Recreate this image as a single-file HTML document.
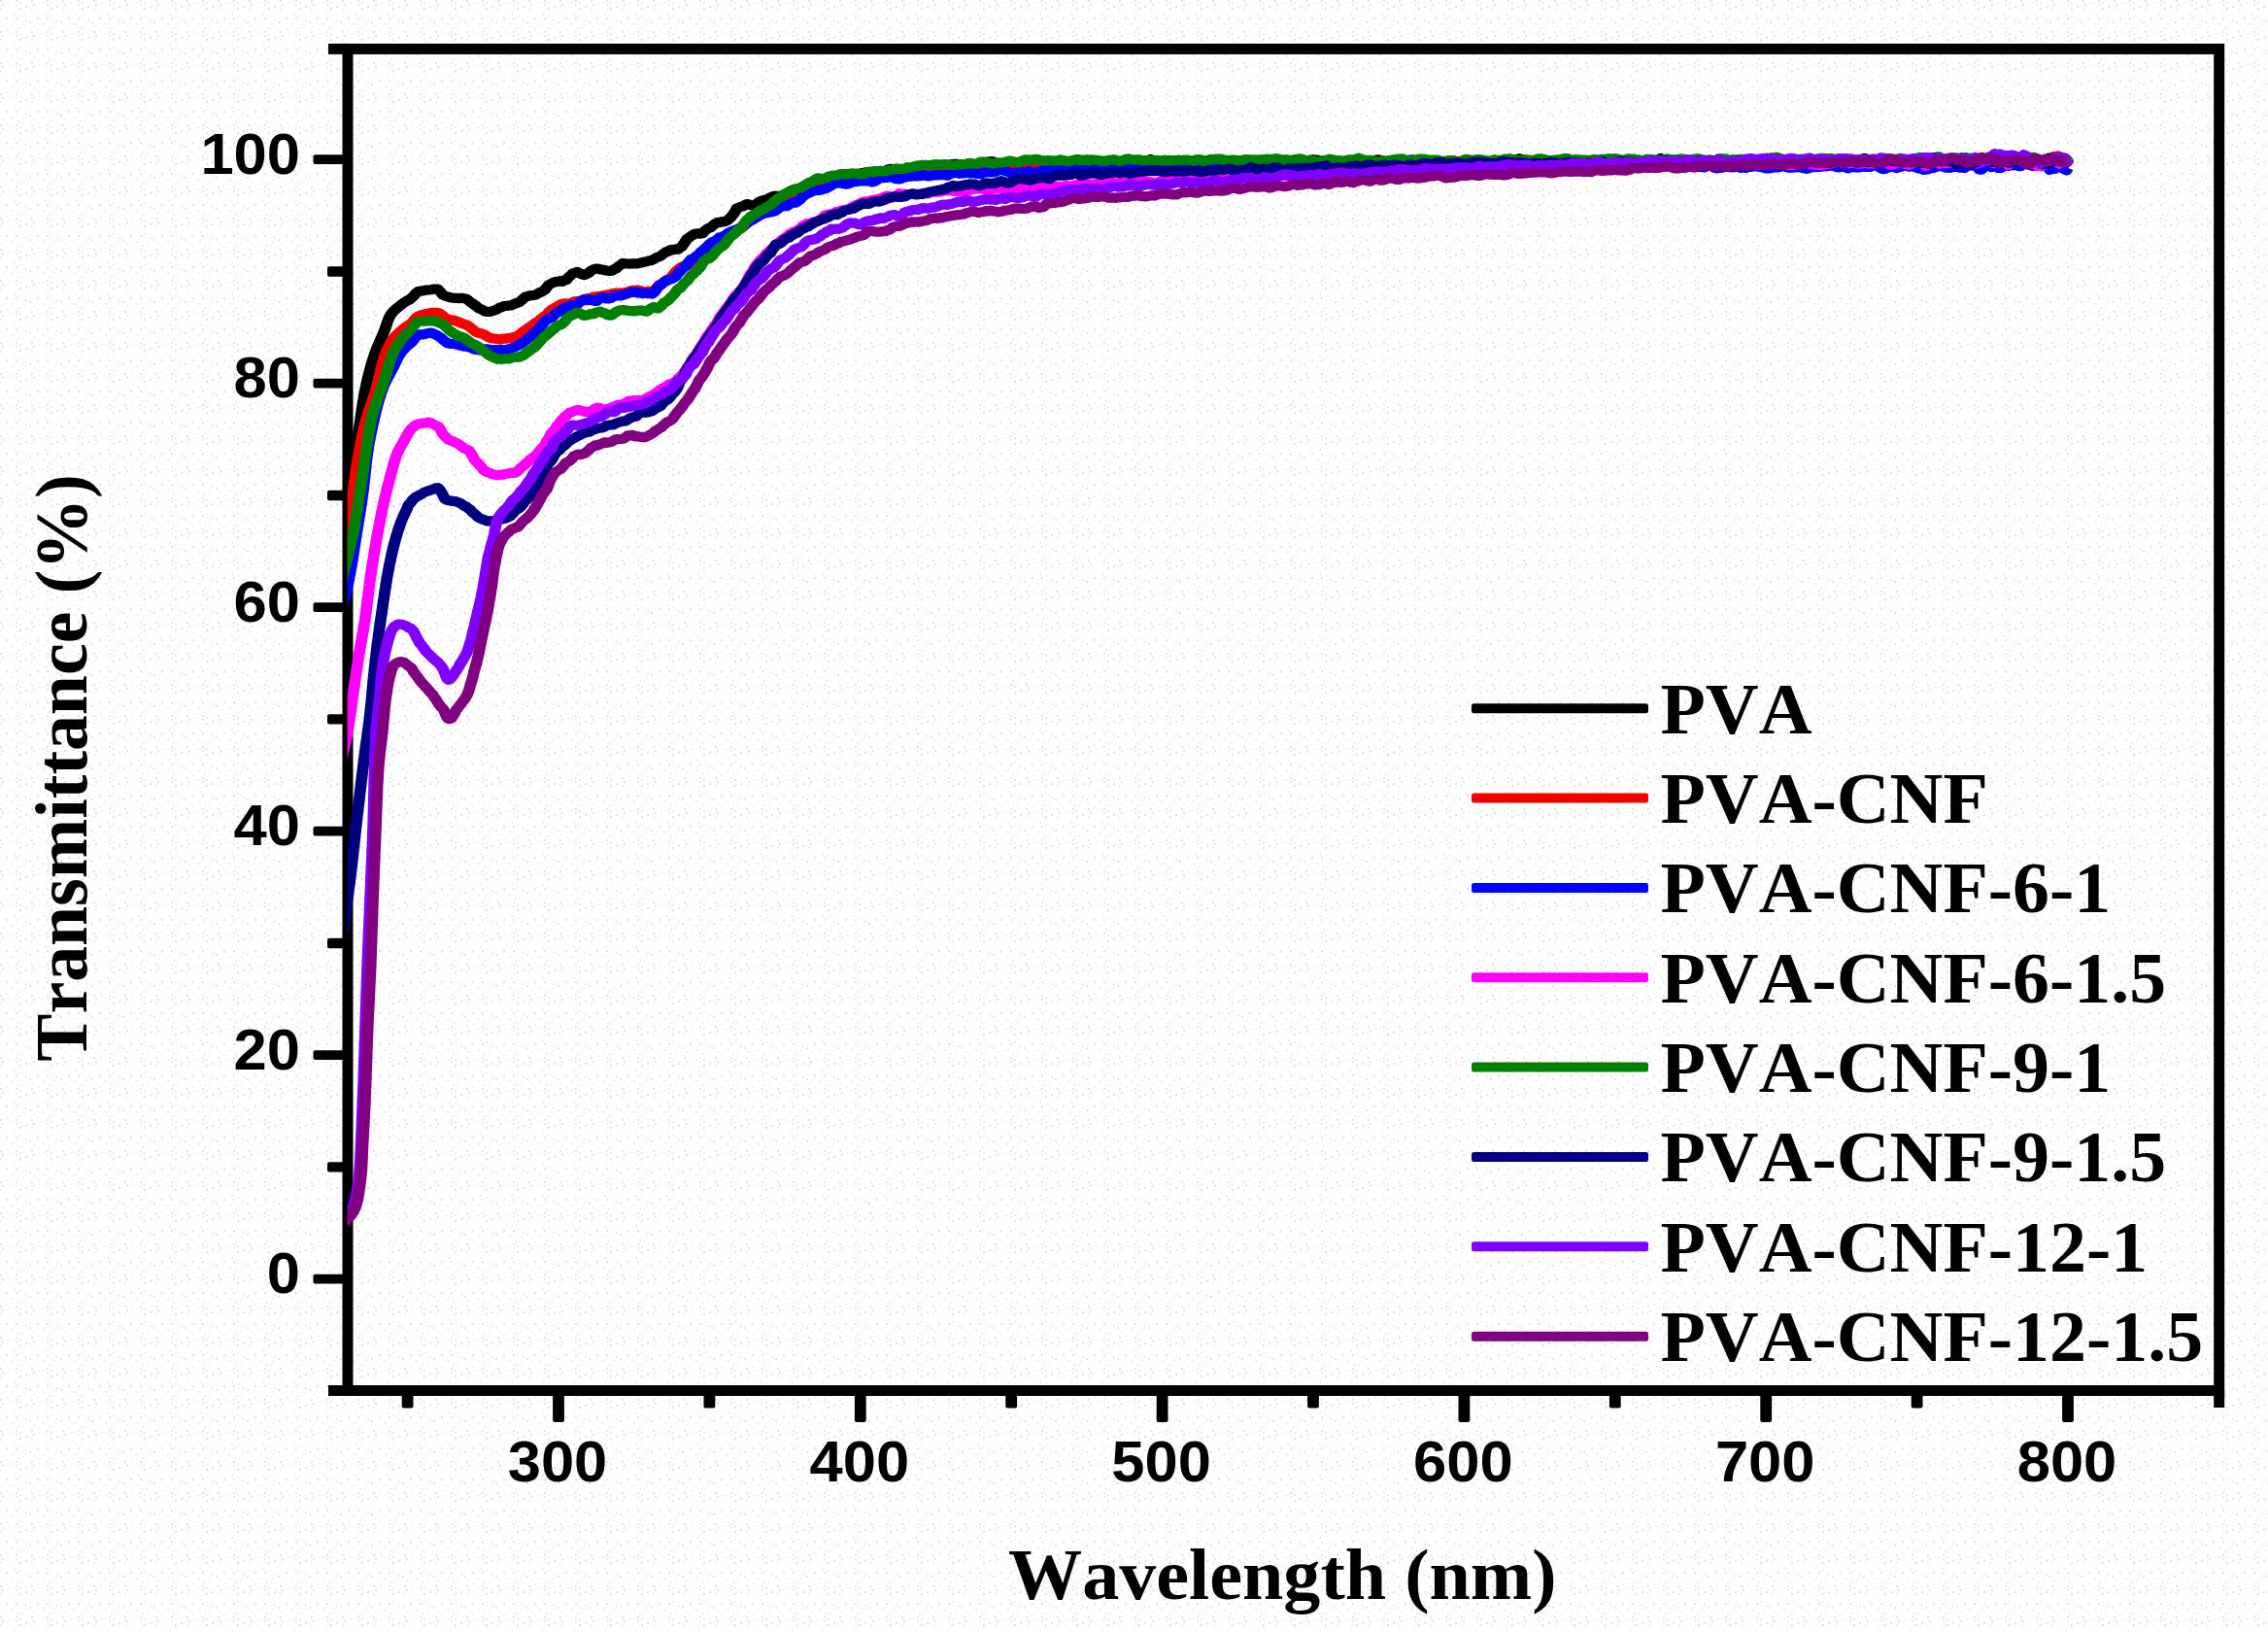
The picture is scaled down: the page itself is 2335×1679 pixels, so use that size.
<!DOCTYPE html>
<html lang="en"><head><meta charset="utf-8"><title>Transmittance vs Wavelength</title>
<style>
html,body{margin:0;padding:0;background:#fff;}
body{width:2335px;height:1679px;overflow:hidden;}
svg{display:block;}
text{font-kerning:none;}
.tick{font-family:"Liberation Sans",Arial,sans-serif;font-weight:700;font-size:60px;fill:#000;}
.ttl{font-family:"Liberation Serif","Times New Roman",serif;font-weight:700;font-size:73px;fill:#000;}
.leg{font-family:"Liberation Serif","Times New Roman",serif;font-weight:700;font-size:73px;fill:#000;}
</style></head><body>
<svg width="2335" height="1679" viewBox="0 0 2335 1679">
<defs>
<pattern id="dots" width="32" height="32" patternUnits="userSpaceOnUse">
<rect width="32" height="32" fill="#ffffff"/>
<rect x="0" y="0" width="2" height="2" fill="#f2d8ef"/>
<rect x="14" y="14" width="2" height="2" fill="#dcf2f3"/>
<rect x="8" y="2" width="2" height="2" fill="#f5f5ec"/>
<rect x="6" y="18" width="2" height="2" fill="#f2d8ef"/>
<rect x="16" y="4" width="2" height="2" fill="#dcf2f3"/>
<rect x="22" y="28" width="2" height="2" fill="#f5f5ec"/>
<rect x="20" y="8" width="2" height="2" fill="#f2d8ef"/>
<rect x="20" y="2" width="2" height="2" fill="#dcf2f3"/>
<rect x="20" y="16" width="2" height="2" fill="#f5f5ec"/>
<rect x="30" y="22" width="2" height="2" fill="#f2d8ef"/>
<rect x="0" y="8" width="2" height="2" fill="#dcf2f3"/>
<rect x="2" y="26" width="2" height="2" fill="#f5f5ec"/>
<rect x="16" y="18" width="2" height="2" fill="#f2d8ef"/>
<rect x="18" y="28" width="2" height="2" fill="#dcf2f3"/>
<rect x="12" y="2" width="2" height="2" fill="#f5f5ec"/>
<rect x="16" y="0" width="2" height="2" fill="#f2d8ef"/>
<rect x="26" y="20" width="2" height="2" fill="#dcf2f3"/>
<rect x="6" y="30" width="2" height="2" fill="#f5f5ec"/>
<rect x="2" y="4" width="2" height="2" fill="#f2d8ef"/>
<rect x="12" y="24" width="2" height="2" fill="#dcf2f3"/>
<rect x="24" y="24" width="2" height="2" fill="#f5f5ec"/>
<rect x="26" y="6" width="2" height="2" fill="#f2d8ef"/>
</pattern>
</defs>
<rect width="2335" height="1679" fill="url(#dots)"/>

<g stroke="#000" stroke-width="11" fill="none" stroke-linecap="butt">
<rect x="358.0" y="50.4" width="1926.7" height="1381.1"/>
<line x1="338" y1="50.4" x2="358.0" y2="50.4"/>
<line x1="338" y1="1431.5" x2="358.0" y2="1431.5"/>
<line x1="2284.7" y1="1431.5" x2="2284.7" y2="1449"/>
</g>
<g fill="#000">
<rect x="322.5" y="1311.8" width="32" height="9.8" rx="2"/>
<rect x="322.5" y="1081.3" width="32" height="9.8" rx="2"/>
<rect x="322.5" y="850.8" width="32" height="9.8" rx="2"/>
<rect x="322.5" y="620.3" width="32" height="9.8" rx="2"/>
<rect x="322.5" y="389.8" width="32" height="9.8" rx="2"/>
<rect x="322.5" y="159.3" width="32" height="9.8" rx="2"/>
<rect x="337" y="1196.2" width="18" height="10.4" rx="2"/>
<rect x="337" y="965.8" width="18" height="10.4" rx="2"/>
<rect x="337" y="735.2" width="18" height="10.4" rx="2"/>
<rect x="337" y="504.8" width="18" height="10.4" rx="2"/>
<rect x="337" y="274.3" width="18" height="10.4" rx="2"/>
<rect x="569.1" y="1435" width="11.8" height="29" rx="2"/>
<rect x="879.9" y="1435" width="11.8" height="29" rx="2"/>
<rect x="1190.7" y="1435" width="11.8" height="29" rx="2"/>
<rect x="1501.5" y="1435" width="11.8" height="29" rx="2"/>
<rect x="1812.3" y="1435" width="11.8" height="29" rx="2"/>
<rect x="2123.1" y="1435" width="11.8" height="29" rx="2"/>
<rect x="413.7" y="1435" width="11.8" height="14.5" rx="2"/>
<rect x="724.5" y="1435" width="11.8" height="14.5" rx="2"/>
<rect x="1035.3" y="1435" width="11.8" height="14.5" rx="2"/>
<rect x="1346.1" y="1435" width="11.8" height="14.5" rx="2"/>
<rect x="1656.9" y="1435" width="11.8" height="14.5" rx="2"/>
<rect x="1967.7" y="1435" width="11.8" height="14.5" rx="2"/>
</g>
<text class="tick" transform="translate(309,1331.0) scale(1.025,1)" text-anchor="end">0</text>
<text class="tick" transform="translate(309,1100.5) scale(1.025,1)" text-anchor="end">20</text>
<text class="tick" transform="translate(309,870.0) scale(1.025,1)" text-anchor="end">40</text>
<text class="tick" transform="translate(309,639.5) scale(1.025,1)" text-anchor="end">60</text>
<text class="tick" transform="translate(309,409.0) scale(1.025,1)" text-anchor="end">80</text>
<text class="tick" transform="translate(309,178.5) scale(1.025,1)" text-anchor="end">100</text>
<text class="tick" transform="translate(574.0,1524.8) scale(1.025,1)" text-anchor="middle">300</text>
<text class="tick" transform="translate(884.8,1524.8) scale(1.025,1)" text-anchor="middle">400</text>
<text class="tick" transform="translate(1195.6,1524.8) scale(1.025,1)" text-anchor="middle">500</text>
<text class="tick" transform="translate(1506.4,1524.8) scale(1.025,1)" text-anchor="middle">600</text>
<text class="tick" transform="translate(1817.2,1524.8) scale(1.025,1)" text-anchor="middle">700</text>
<text class="tick" transform="translate(2128.0,1524.8) scale(1.025,1)" text-anchor="middle">800</text>
<clipPath id="cl"><rect x="357.6" y="0" width="2000" height="1679"/></clipPath>
<g clip-path="url(#cl)"><g transform="scale(1.15,1)" fill="none" stroke-width="10.2" stroke-linejoin="round" stroke-linecap="butt">
<path stroke="#000000" d="M300.4,600.0 300.8,597.5 301.1,595.1 301.4,592.6 301.7,590.1 302.0,587.6 302.4,585.2 302.7,582.7 303.0,580.2 303.3,577.7 303.7,575.3 304.0,572.8 304.3,570.3 304.6,567.9 304.9,565.4 305.3,562.9 305.6,560.4 305.9,558.0 306.2,555.5 306.6,553.0 306.9,550.6 307.2,548.1 307.5,545.6 307.9,543.1 308.2,540.7 308.5,538.2 308.8,535.7 309.1,533.2 309.5,530.8 309.8,528.3 310.1,525.8 310.4,523.4 310.8,520.9 311.1,518.4 311.4,515.9 311.7,513.5 312.0,511.0 312.4,508.5 312.7,506.0 313.0,503.6 313.3,501.1 313.6,498.6 314.0,496.2 314.3,493.7 314.6,491.2 314.9,488.7 315.3,486.3 315.6,483.8 315.9,481.3 316.2,478.9 316.6,476.4 316.9,473.9 317.3,471.4 317.6,469.0 318.0,466.5 318.3,464.0 318.7,461.6 319.0,459.1 319.4,456.6 319.7,454.2 320.1,451.7 320.4,449.2 320.7,446.8 321.1,444.3 321.4,441.8 321.7,439.4 322.1,436.9 322.4,434.4 322.7,431.9 323.0,429.5 323.3,427.0 323.6,424.5 323.9,422.0 324.2,419.6 324.6,417.1 324.9,414.6 325.3,412.2 325.7,409.7 326.0,407.2 326.4,404.8 326.8,402.3 327.2,399.9 327.7,397.4 328.1,395.0 328.6,392.5 329.1,390.1 329.6,387.7 330.2,385.3 330.7,382.8 331.3,380.4 331.9,378.0 332.5,375.6 333.1,373.2 333.7,370.8 334.4,368.4 335.0,366.0 335.7,363.7 336.5,361.3 337.3,359.0 338.1,356.7 339.0,354.4 339.8,352.1 340.7,349.8 341.6,347.5 342.5,345.2 343.3,342.9 344.1,340.6 344.9,338.2 345.6,335.8 346.3,333.3 347.0,330.9 347.8,328.6 348.7,326.3 349.7,324.2 350.8,322.3 352.2,320.5 353.8,318.8 355.5,317.1 357.3,315.5 359.0,313.9 360.8,312.4 362.5,311.0 364.4,309.6 366.2,308.7 367.9,307.3 369.6,305.5 371.3,303.3 373.0,301.2 374.8,299.8 376.7,299.7 378.9,299.3 381.1,298.7 383.3,298.5 385.5,298.2 387.8,297.7 390.0,297.5 391.9,297.6 393.5,299.5 395.0,301.5 396.5,303.6 398.2,304.5 400.2,305.2 402.3,306.0 404.5,306.5 406.7,306.9 408.9,306.8 411.1,307.1 413.4,306.8 415.5,307.3 417.6,307.7 419.5,309.3 421.2,311.2 423.0,312.3 424.8,314.0 426.6,315.3 428.5,317.3 430.4,318.2 432.4,319.3 434.4,320.6 436.4,321.0 438.5,320.9 440.5,320.2 442.6,319.5 444.7,318.6 446.8,317.1 448.9,316.3 451.0,315.2 453.1,315.0 455.3,314.5 457.4,314.4 459.5,313.3 461.5,312.5 463.5,311.6 465.3,310.8 467.1,308.9 468.8,307.1 470.6,305.4 472.5,305.0 474.6,304.2 476.8,304.2 479.0,303.6 481.2,302.5 483.2,301.1 485.0,300.4 486.6,299.1 488.1,298.1 489.5,295.7 491.0,293.6 492.7,292.4 494.7,291.3 496.8,290.1 499.1,290.2 501.3,289.2 503.4,289.9 505.4,288.4 507.3,288.0 509.1,285.2 510.9,283.6 512.8,281.5 514.7,280.7 516.7,279.8 518.9,281.2 521.1,282.4 523.2,283.1 525.3,282.0 527.3,280.7 529.3,278.5 531.3,277.3 533.4,276.7 535.4,276.7 537.5,277.4 539.7,277.6 541.8,278.3 543.9,278.7 545.9,278.9 547.8,278.7 549.7,277.2 551.5,276.4 553.4,274.4 555.3,273.0 557.3,271.2 559.4,271.2 561.6,271.5 563.8,271.6 566.0,271.4 568.2,271.3 570.4,271.4 572.5,270.8 574.6,270.3 576.7,269.7 578.7,269.3 580.8,268.5 582.9,268.2 585.0,267.1 587.1,265.6 589.2,264.5 591.2,263.7 593.1,261.9 594.8,260.7 596.5,259.0 598.3,258.9 600.2,257.0 602.5,257.3 604.8,256.4 607.0,256.7 608.9,254.9 610.4,253.9 611.6,251.9 612.8,250.0 614.0,247.8 615.3,245.7 616.8,244.7 618.5,243.1 620.5,241.7 622.6,240.5 624.8,240.3 627.0,240.6 629.0,240.1 630.9,237.7 632.8,236.0 634.6,234.8 636.3,234.2 638.1,232.3 640.0,230.5 642.0,229.2 644.1,229.0 646.2,228.1 648.3,228.3 650.4,227.4 652.2,226.0 653.8,224.1 655.3,222.4 656.8,220.3 658.2,217.7 659.7,214.3 661.4,213.8 663.2,212.9 665.3,212.3 667.4,210.5 669.6,210.1 671.8,211.1 674.0,211.3 676.1,211.0 678.1,209.1 680.1,207.4 682.0,206.4 683.9,206.0 685.9,205.5 687.9,204.7 689.9,203.2 692.0,202.3 694.1,201.5 696.2,202.2 698.3,201.8 700.4,201.5 702.5,199.7 704.6,199.1 706.6,197.4 708.7,196.1 710.7,195.1 712.7,194.8 714.8,194.6 716.8,193.5 718.8,192.8 720.9,191.4 722.9,189.9 725.0,188.0 727.0,187.2 729.1,187.8 731.1,187.5 733.2,186.8 735.3,185.1 737.4,185.7 739.5,185.2 741.6,184.6 743.7,182.7 745.8,182.8 747.9,182.8 750.1,181.7 752.2,180.4 754.4,180.1 756.5,180.2 758.7,179.6 760.8,179.6 763.0,179.8 765.1,180.2 767.3,179.3 769.5,178.8 771.6,178.3 773.8,177.6 776.0,177.4 778.1,176.8 780.3,177.4 782.5,176.3 784.6,176.7 786.8,176.1 789.0,177.5 791.1,176.7 793.3,175.8 795.4,174.2 797.6,173.9 799.8,174.0 801.9,174.2 804.1,174.9 806.2,175.7 808.4,174.8 810.6,175.4 812.7,175.3 814.9,175.3 817.0,172.6 819.2,171.4 821.4,171.3 823.5,171.1 825.7,171.0 827.9,170.7 830.0,171.2 832.2,171.4 834.4,171.8 836.5,171.8 838.7,171.5 840.9,170.5 843.0,170.2 845.2,170.0 847.4,170.5 849.6,170.5 851.7,169.2 853.9,169.2 856.1,168.5 858.3,169.6 860.4,170.1 862.6,170.7 864.8,170.0 866.9,168.3 869.1,168.8 871.3,169.3 873.5,170.2 875.6,169.9 877.8,169.8 880.0,169.3 882.2,168.3 884.3,166.7 886.5,166.0 888.7,166.3 890.8,167.7 893.0,168.5 895.2,168.4 897.4,168.5 899.5,168.6 901.7,168.1 903.9,167.8 906.1,166.5 908.2,167.3 910.4,167.4 912.6,168.3 914.7,168.5 916.9,169.0 919.1,168.6 921.3,168.2 923.4,166.9 925.6,167.0 927.8,166.6 930.0,166.5 932.1,166.9 934.3,166.4 936.5,167.5 938.6,166.5 940.8,167.3 943.0,167.6 945.2,167.4 947.3,166.1 949.5,165.3 951.7,166.1 953.9,166.7 956.0,166.4 958.2,166.2 960.4,165.1 962.6,165.0 964.7,164.1 966.9,165.6 969.1,165.5 971.2,165.7 973.4,165.3 975.6,164.9 977.8,165.5 979.9,165.3 982.1,165.8 984.3,165.5 986.5,166.3 988.6,166.4 990.8,167.0 993.0,166.8 995.2,166.4 997.3,166.4 999.5,166.4 1001.7,166.9 1003.9,166.4 1006.0,166.0 1008.2,166.2 1010.4,167.5 1012.6,167.3 1014.7,167.2 1016.9,165.9 1019.1,166.7 1021.2,166.7 1023.4,167.4 1025.6,165.6 1027.8,165.1 1029.9,164.0 1032.1,165.4 1034.3,165.3 1036.5,165.5 1038.6,165.8 1040.8,167.1 1043.0,166.1 1045.2,165.6 1047.3,164.8 1049.5,166.2 1051.7,166.1 1053.9,165.3 1056.0,164.8 1058.2,165.4 1060.4,166.6 1062.6,167.1 1064.7,166.3 1066.9,165.8 1069.1,165.6 1071.2,166.3 1073.4,166.3 1075.6,166.1 1077.8,165.9 1079.9,165.3 1082.1,166.0 1084.3,166.5 1086.5,166.5 1088.6,166.3 1090.8,165.2 1093.0,166.3 1095.2,166.6 1097.3,166.9 1099.5,166.9 1101.7,166.2 1103.9,166.0 1106.0,165.2 1108.2,165.4 1110.4,165.5 1112.6,165.9 1114.7,165.6 1116.9,166.2 1119.1,166.6 1121.3,166.7 1123.4,165.6 1125.6,165.4 1127.8,166.2 1129.9,166.8 1132.1,165.8 1134.3,165.4 1136.5,166.2 1138.6,165.9 1140.8,166.0 1143.0,165.1 1145.2,165.6 1147.3,165.6 1149.5,165.1 1151.7,165.7 1153.9,166.1 1156.0,166.8 1158.2,166.2 1160.4,164.7 1162.6,164.0 1164.7,163.5 1166.9,165.2 1169.1,165.7 1171.3,166.1 1173.4,164.6 1175.6,164.2 1177.8,164.6 1179.9,164.6 1182.1,165.9 1184.3,165.7 1186.5,165.9 1188.6,165.3 1190.8,166.3 1193.0,167.4 1195.2,167.0 1197.3,166.4 1199.5,165.8 1201.7,166.3 1203.9,166.3 1206.0,165.8 1208.2,164.9 1210.4,164.8 1212.6,164.7 1214.7,166.0 1216.9,165.9 1219.1,166.0 1221.3,165.2 1223.4,164.9 1225.6,165.3 1227.8,165.9 1229.9,165.5 1232.1,164.6 1234.3,164.3 1236.5,164.9 1238.6,165.9 1240.8,166.0 1243.0,166.0 1245.2,166.3 1247.3,165.6 1249.5,165.7 1251.7,164.9 1253.9,164.8 1256.0,165.1 1258.2,165.8 1260.4,165.4 1262.6,164.5 1264.7,164.4 1266.9,165.8 1269.1,166.1 1271.3,165.8 1273.4,164.6 1275.6,166.2 1277.8,166.5 1279.9,167.6 1282.1,166.7 1284.3,166.9 1286.5,166.8 1288.6,166.3 1290.8,166.2 1293.0,165.9 1295.2,166.7 1297.3,166.0 1299.5,165.7 1301.7,165.3 1303.9,166.3 1306.0,166.7 1308.2,166.0 1310.4,165.3 1312.6,165.0 1314.7,166.3 1316.9,166.8 1319.1,167.6 1321.3,166.8 1323.4,166.1 1325.6,166.1 1327.8,166.7 1329.9,167.3 1332.1,166.7 1334.3,166.4 1336.5,165.9 1338.6,166.3 1340.8,165.4 1343.0,165.1 1345.2,165.0 1347.3,165.5 1349.5,167.0 1351.7,166.5 1353.9,166.4 1356.0,164.9 1358.2,164.1 1360.4,163.2 1362.6,164.0 1364.7,164.3 1366.9,165.7 1369.1,166.2 1371.3,166.7 1373.4,166.9 1375.6,166.3 1377.8,167.0 1379.9,166.1 1382.1,166.4 1384.3,165.4 1386.5,165.8 1388.6,165.1 1390.8,165.5 1393.0,165.5 1395.2,165.8 1397.3,165.9 1399.5,165.9 1401.7,166.2 1403.9,165.6 1406.0,165.5 1408.2,165.4 1410.4,165.7 1412.6,165.6 1414.7,164.6 1416.9,165.7 1419.1,165.4 1421.3,166.0 1423.4,165.9 1425.6,165.9 1427.8,166.3 1429.9,165.1 1432.1,164.9 1434.3,163.9 1436.5,164.3 1438.6,165.1 1440.8,165.9 1443.0,166.5 1445.2,165.4 1447.3,164.9 1449.5,164.2 1451.7,165.0 1453.9,165.6 1456.0,165.8 1458.2,165.9 1460.4,165.6 1462.6,165.6 1464.7,165.9 1466.9,165.7 1469.1,165.8 1471.3,166.0 1473.4,166.3 1475.6,166.5 1477.8,165.4 1479.9,166.4 1482.1,164.9 1484.3,164.6 1486.5,163.1 1488.6,165.0 1490.8,165.8 1493.0,166.2 1495.2,164.7 1497.3,164.7 1499.5,164.9 1501.7,165.2 1503.9,164.3 1506.0,163.7 1508.2,164.1 1510.4,165.0 1512.6,165.6 1514.7,165.4 1516.9,164.4 1519.1,164.3 1521.3,163.9 1523.4,164.8 1525.6,165.0 1527.8,165.2 1529.9,164.6 1532.1,164.9 1534.3,165.4 1536.5,165.6 1538.6,163.6 1540.8,163.4 1543.0,164.0 1545.2,166.1 1547.3,165.7 1549.5,165.1 1551.7,164.3 1553.9,165.1 1556.0,164.8 1558.2,165.0 1560.4,164.1 1562.6,164.8 1564.7,164.1 1566.9,164.7 1569.1,164.3 1571.3,165.0 1573.4,165.1 1575.6,165.9 1577.8,165.1 1579.9,165.4 1582.1,165.1 1584.3,165.8 1586.5,166.0 1588.6,165.8 1590.8,166.6 1593.0,165.6 1595.2,165.0 1597.3,165.0 1599.5,166.4 1601.7,167.1 1603.9,166.9 1606.0,165.6 1608.2,164.7 1610.4,164.1 1612.6,165.1 1614.7,164.8 1616.9,164.7 1619.1,163.0 1621.3,164.0 1623.4,164.6 1625.6,165.0 1627.8,164.7 1629.9,164.9 1632.1,165.5 1634.3,165.1 1636.5,163.8 1638.6,162.8 1640.8,163.8 1643.0,164.1 1645.2,165.6 1647.3,165.6 1649.5,165.7 1651.7,164.9 1653.9,164.8 1656.0,165.3 1658.2,165.7 1660.4,164.4 1662.6,164.8 1664.7,164.1 1666.9,163.8 1669.1,162.9 1671.3,163.6 1673.4,166.2 1675.6,166.3 1677.8,165.3 1679.9,165.3 1682.1,165.6 1684.3,166.3 1686.5,164.2 1688.6,163.4 1690.8,164.6 1693.0,165.2 1695.2,165.5 1697.3,164.1 1699.5,165.4 1701.7,165.4 1703.9,166.2 1706.0,165.2 1708.2,165.9 1710.4,164.7 1712.6,165.0 1714.7,166.1 1716.9,166.8 1719.1,165.5 1721.3,163.1 1723.4,163.3 1725.6,163.8 1727.8,164.8 1729.9,164.7 1732.1,163.6 1734.3,164.4 1736.5,164.6 1738.6,165.9 1740.8,165.4 1743.0,166.0 1745.2,166.2 1747.3,165.1 1749.5,165.4 1751.7,164.9 1753.9,165.0 1756.0,162.3 1758.2,162.7 1760.4,162.3 1762.6,163.4 1764.7,163.8 1766.9,165.0 1769.1,166.6 1771.3,166.5 1773.4,166.0 1775.6,164.5 1777.8,163.6 1779.9,164.8 1782.1,165.2 1784.3,165.3 1786.5,165.5 1788.6,165.6 1790.8,165.6 1793.0,162.8 1795.2,163.2 1797.3,164.0 1799.5,165.9 1801.7,164.8 1803.9,163.5 1806.0,163.1 1808.2,164.0 1810.4,164.8 1812.6,164.9 1814.7,164.0 1816.9,164.6 1819.1,165.1 1821.3,164.8 1823.4,165.3 1825.6,166.1 1827.8,168.2 1829.9,167.0 1832.1,165.7 1834.3,162.9 1836.5,164.2 1838.6,161.4 1840.8,162.5 1843.0,160.9 1845.2,165.2 1847.3,165.8 1849.5,164.8 1851.3,161.5"/>
<path stroke="#f50000" d="M300.9,620.0 301.2,617.5 301.5,615.0 301.8,612.6 302.1,610.1 302.4,607.6 302.7,605.1 303.0,602.7 303.3,600.2 303.6,597.7 304.0,595.3 304.3,592.8 304.6,590.3 305.0,587.8 305.3,585.4 305.7,582.9 306.0,580.4 306.4,578.0 306.8,575.5 307.1,573.1 307.5,570.6 307.9,568.1 308.3,565.7 308.8,563.2 309.2,560.8 309.6,558.3 310.0,555.8 310.3,553.4 310.7,550.9 311.1,548.5 311.4,546.0 311.7,543.5 312.0,541.0 312.3,538.6 312.6,536.1 312.9,533.6 313.2,531.1 313.5,528.7 313.7,526.2 314.0,523.7 314.3,521.2 314.5,518.7 314.8,516.3 315.1,513.8 315.4,511.3 315.7,508.8 316.0,506.3 316.3,503.9 316.6,501.4 316.9,498.9 317.2,496.4 317.5,494.0 317.8,491.5 318.1,489.0 318.4,486.5 318.7,484.1 319.1,481.6 319.4,479.1 319.7,476.6 320.1,474.2 320.4,471.7 320.8,469.2 321.2,466.8 321.6,464.3 322.0,461.9 322.4,459.4 322.8,457.0 323.2,454.5 323.7,452.1 324.2,449.6 324.6,447.2 325.1,444.7 325.6,442.3 326.1,439.9 326.7,437.4 327.2,435.0 327.7,432.6 328.3,430.2 328.9,427.8 329.6,425.4 330.2,423.1 330.9,420.7 331.7,418.3 332.4,416.0 333.1,413.6 333.8,411.2 334.5,408.9 335.2,406.5 335.9,404.1 336.5,401.7 337.1,399.3 337.7,396.9 338.2,394.5 338.7,392.0 339.2,389.6 339.7,387.1 340.2,384.7 340.7,382.2 341.1,379.8 341.7,377.4 342.2,375.0 342.8,372.6 343.5,370.2 344.1,367.9 344.9,365.5 345.6,363.1 346.5,360.7 347.4,358.4 348.3,356.1 349.3,353.9 350.3,351.7 351.4,349.7 352.7,347.7 354.1,345.9 355.7,344.1 357.3,342.4 359.0,340.7 360.6,339.0 362.3,337.5 364.1,336.0 365.8,334.8 367.5,333.4 369.1,331.9 370.7,329.5 372.2,327.6 373.8,325.9 375.6,325.0 377.5,324.2 379.6,323.6 381.8,322.8 384.0,322.5 386.2,321.8 388.4,321.8 390.6,321.8 392.5,322.1 394.3,323.0 396.0,324.7 397.7,326.4 399.6,328.0 401.6,328.7 403.7,329.3 405.9,329.6 408.1,330.3 410.2,331.3 412.2,332.4 414.2,333.1 416.1,333.9 418.1,334.7 420.0,336.1 421.9,338.0 423.8,339.8 425.6,341.4 427.5,342.5 429.4,342.9 431.3,343.6 433.3,344.1 435.3,345.8 437.4,347.2 439.5,348.0 441.6,348.5 443.7,348.8 445.8,349.2 448.0,349.2 450.1,348.7 452.3,348.7 454.5,348.2 456.6,348.0 458.7,347.2 460.8,346.9 462.7,346.2 464.6,344.8 466.5,343.1 468.4,341.4 470.2,339.9 472.0,338.5 473.8,337.0 475.6,335.8 477.3,334.2 479.0,332.6 480.8,331.2 482.5,330.3 484.2,328.3 485.9,327.0 487.7,325.4 489.4,324.3 491.1,321.4 492.9,319.6 494.6,318.2 496.3,317.3 498.1,316.1 499.9,314.7 501.8,313.6 503.7,312.6 505.7,312.4 507.8,312.5 509.9,312.5 512.0,311.7 514.2,310.3 516.4,310.2 518.6,309.9 520.7,309.8 522.9,307.9 525.0,307.6 527.2,306.8 529.3,306.8 531.5,305.5 533.6,305.3 535.8,305.2 537.9,304.7 540.1,304.2 542.2,303.7 544.4,303.4 546.5,302.9 548.7,302.1 550.8,301.6 553.0,302.0 555.1,301.3 557.2,301.7 559.3,301.2 561.5,300.5 563.6,299.8 565.8,298.9 567.9,298.8 570.1,298.7 572.4,298.9 574.6,299.8 576.9,300.5 579.1,300.2 581.2,299.8 583.2,299.6 585.0,300.1 586.6,297.8 588.2,296.1 589.9,293.4 591.6,293.5 593.4,291.4 595.3,289.8 597.2,287.9 599.0,287.3 600.7,286.1 602.3,283.3 603.9,281.3 605.5,278.9 607.2,277.9 608.9,275.7 610.8,274.5 612.8,273.4 614.9,272.6 617.0,272.3 619.1,272.0 621.1,271.4 623.1,270.0 624.9,268.7 626.7,267.9 628.3,267.5 629.9,266.0 631.5,264.1 633.1,262.3 634.6,261.0 636.2,259.7 637.8,257.3 639.4,254.9 641.1,253.2 642.8,252.5 644.5,251.8 646.3,248.6 648.0,246.4 649.8,242.8 651.6,242.8 653.4,241.5 655.2,241.5 656.9,239.6 658.7,238.7 660.5,237.1 662.2,236.1 664.0,234.3 665.7,233.1 667.4,231.3 669.2,229.6 671.0,227.5 672.7,226.2 674.5,225.0 676.3,224.0 678.1,222.6 679.9,221.4 681.7,219.5 683.6,217.8 685.4,215.9 687.3,214.8 689.2,213.7 691.1,212.3 693.0,211.3 694.9,210.0 696.8,209.4 698.7,208.6 700.7,208.3 702.6,206.8 704.6,205.8 706.6,203.2 708.5,202.7 710.5,202.1 712.6,202.2 714.6,200.8 716.6,199.3 718.7,198.4 720.7,197.8 722.7,197.5 724.8,195.6 726.8,195.4 728.9,194.6 730.9,194.3 732.9,192.4 735.0,190.9 737.0,189.8 739.0,189.3 741.1,188.3 743.1,187.3 745.1,186.4 747.2,186.3 749.3,184.8 751.4,183.5 753.4,181.7 755.6,181.9 757.7,181.4 759.8,182.0 762.0,182.0 764.1,182.4 766.3,181.6 768.5,181.3 770.6,181.3 772.8,181.5 775.0,180.9 777.2,180.9 779.4,179.8 781.5,180.5 783.7,178.6 785.9,178.8 788.0,177.4 790.2,178.9 792.4,178.3 794.5,179.4 796.7,178.2 798.9,179.5 801.0,178.7 803.2,179.2 805.4,178.3 807.5,178.9 809.7,179.1 811.9,177.7 814.0,177.1 816.2,176.7 818.4,176.8 820.5,176.4 822.7,175.6 824.9,176.3 827.1,175.9 829.2,176.0 831.4,176.1 833.6,175.4 835.7,175.7 837.9,175.0 840.1,175.3 842.3,175.9 844.4,176.1 846.6,175.5 848.8,174.5 850.9,174.0 853.1,174.3 855.3,174.3 857.5,174.6 859.6,174.4 861.8,174.0 864.0,174.0 866.1,174.3 868.3,174.1 870.5,173.8 872.6,173.2 874.8,173.9 877.0,174.3 879.2,173.8 881.3,173.2 883.5,171.9 885.7,171.7 887.8,171.6 890.0,172.4 892.2,173.2 894.4,172.9 896.5,172.0 898.7,171.6 900.9,171.6 903.1,172.3 905.2,172.1 907.4,172.4 909.6,172.4 911.7,172.6 913.9,172.0 916.1,172.1 918.3,171.4 920.4,171.6 922.6,171.9 924.8,172.2 927.0,171.5 929.1,171.3 931.3,171.5 933.5,172.4 935.6,171.8 937.8,171.4 940.0,170.7 942.2,170.2 944.3,170.6 946.5,170.5 948.7,170.5 950.9,169.6 953.0,170.5 955.2,171.0 957.4,171.0 959.5,170.1 961.7,169.9 963.9,170.5 966.1,169.7 968.2,169.9 970.4,169.3 972.6,169.7 974.8,169.1 976.9,169.5 979.1,170.5 981.3,170.7 983.5,170.6 985.6,169.4 987.8,169.5 990.0,169.6 992.1,169.3 994.3,168.8 996.5,168.8 998.7,168.6 1000.8,168.6 1003.0,168.5 1005.2,168.5 1007.4,168.5 1009.5,168.2 1011.7,169.3 1013.9,168.9 1016.1,169.3 1018.2,169.1 1020.4,170.1 1022.6,170.1 1024.8,170.1 1026.9,169.8 1029.1,168.5 1031.3,167.7 1033.4,167.0 1035.6,167.6 1037.8,168.6 1040.0,168.2 1042.1,168.2 1044.3,167.2 1046.5,167.2 1048.7,168.0 1050.8,168.6 1053.0,170.0 1055.2,169.9 1057.4,169.4 1059.5,167.8 1061.7,168.2 1063.9,168.4 1066.1,168.7 1068.2,168.1 1070.4,168.3 1072.6,168.5 1074.8,168.0 1076.9,168.0 1079.1,168.3 1081.3,168.8 1083.4,168.5 1085.6,168.3 1087.8,168.2 1090.0,168.5 1092.1,169.1 1094.3,168.8 1096.5,168.6 1098.7,167.5 1100.8,168.3 1103.0,167.7 1105.2,168.3 1107.4,167.2 1109.5,168.0 1111.7,168.2 1113.9,167.9 1116.1,167.6 1118.2,166.5 1120.4,167.8 1122.6,167.7 1124.8,167.8 1126.9,166.8 1129.1,167.6 1131.3,168.9 1133.5,169.8 1135.6,168.8 1137.8,168.1 1140.0,168.3 1142.1,168.3 1144.3,168.2 1146.5,167.0 1148.7,166.8 1150.8,167.5 1153.0,168.2 1155.2,168.9 1157.4,168.6 1159.5,168.7 1161.7,169.2 1163.9,168.9 1166.1,168.3 1168.2,167.2 1170.4,167.6 1172.6,167.6 1174.8,167.3 1176.9,166.7 1179.1,166.9 1181.3,168.0 1183.4,168.5 1185.6,168.2 1187.8,167.4 1190.0,166.8 1192.1,166.6 1194.3,166.9 1196.5,167.2 1198.7,167.8 1200.8,167.1 1203.0,166.4 1205.2,166.9 1207.4,167.2 1209.5,168.0 1211.7,167.7 1213.9,168.0 1216.1,167.2 1218.2,167.0 1220.4,166.8 1222.6,167.1 1224.8,167.0 1226.9,167.1 1229.1,167.1 1231.3,166.9 1233.4,166.6 1235.6,166.7 1237.8,166.5 1240.0,166.2 1242.1,166.1 1244.3,166.3 1246.5,166.8 1248.7,166.1 1250.8,166.5 1253.0,167.1 1255.2,168.3 1257.4,168.1 1259.5,167.2 1261.7,166.9 1263.9,166.4 1266.1,167.9 1268.2,167.6 1270.4,168.3 1272.6,166.6 1274.8,166.3 1276.9,165.8 1279.1,166.8 1281.3,167.5 1283.4,167.9 1285.6,166.8 1287.8,167.0 1290.0,166.5 1292.1,168.0 1294.3,168.3 1296.5,169.1 1298.7,168.8 1300.8,167.4 1303.0,168.2 1305.2,167.8 1307.4,168.8 1309.5,167.3 1311.7,167.2 1313.9,166.2 1316.1,166.4 1318.2,166.5 1320.4,167.1 1322.6,167.8 1324.8,168.0 1326.9,168.0 1329.1,167.4 1331.3,168.1 1333.4,167.7 1335.6,168.2 1337.8,166.5 1340.0,166.3 1342.1,166.0 1344.3,166.8 1346.5,168.5 1348.7,169.4 1350.8,168.8 1353.0,167.0 1355.2,165.8 1357.4,167.3 1359.5,168.2 1361.7,168.4 1363.9,167.0 1366.1,166.2 1368.2,164.8 1370.4,164.8 1372.6,165.3 1374.8,166.9 1376.9,167.0 1379.1,166.8 1381.3,167.2 1383.4,167.8 1385.6,167.7 1387.8,167.2 1390.0,167.4 1392.1,167.5 1394.3,167.0 1396.5,166.6 1398.7,166.6 1400.8,166.6 1403.0,167.4 1405.2,167.8 1407.4,168.5 1409.5,168.8 1411.7,169.1 1413.9,169.2 1416.1,168.5 1418.2,167.7 1420.4,168.1 1422.6,167.6 1424.8,167.5 1426.9,166.0 1429.1,166.4 1431.3,166.9 1433.4,167.7 1435.6,167.5 1437.8,166.6 1440.0,166.3 1442.1,166.8 1444.3,167.6 1446.5,167.4 1448.7,167.2 1450.8,167.8 1453.0,167.9 1455.2,167.0 1457.4,166.1 1459.5,166.1 1461.7,165.9 1463.9,166.5 1466.1,166.2 1468.2,167.2 1470.4,167.0 1472.6,167.2 1474.8,167.7 1476.9,167.3 1479.1,167.2 1481.3,166.6 1483.4,167.2 1485.6,167.5 1487.8,166.9 1490.0,166.9 1492.1,167.1 1494.3,168.5 1496.5,168.1 1498.7,167.9 1500.8,166.7 1503.0,166.2 1505.2,166.1 1507.4,166.8 1509.5,167.0 1511.7,166.6 1513.9,165.7 1516.1,166.8 1518.2,166.8 1520.4,167.6 1522.6,166.6 1524.8,166.9 1526.9,166.4 1529.1,165.7 1531.3,165.7 1533.4,166.2 1535.6,166.3 1537.8,166.2 1540.0,165.8 1542.1,166.3 1544.3,166.2 1546.5,165.6 1548.7,166.1 1550.8,166.8 1553.0,167.1 1555.2,166.9 1557.4,167.0 1559.5,167.7 1561.7,167.5 1563.9,166.4 1566.1,166.4 1568.2,166.6 1570.4,167.3 1572.6,166.5 1574.8,167.1 1576.9,166.6 1579.1,167.6 1581.3,166.8 1583.4,166.4 1585.6,165.9 1587.8,165.7 1590.0,166.2 1592.1,166.7 1594.3,167.6 1596.5,167.9 1598.7,167.3 1600.8,166.7 1603.0,166.8 1605.2,167.6 1607.4,167.6 1609.5,167.3 1611.7,166.5 1613.9,166.7 1616.1,167.2 1618.2,166.2 1620.4,166.2 1622.6,165.6 1624.8,165.8 1626.9,165.9 1629.1,166.1 1631.3,167.3 1633.4,166.5 1635.6,167.5 1637.8,167.4 1640.0,167.8 1642.1,167.6 1644.3,167.8 1646.5,168.3 1648.7,168.2 1650.8,167.0 1653.0,167.3 1655.2,166.7 1657.4,167.7 1659.5,167.4 1661.7,167.2 1663.9,167.3 1666.1,167.2 1668.2,167.5 1670.4,167.6 1672.6,166.4 1674.8,165.7 1676.9,164.8 1679.1,165.9 1681.3,168.7 1683.4,169.5 1685.6,169.3 1687.8,167.0 1690.0,167.5 1692.1,168.0 1694.3,167.3 1696.5,167.4 1698.7,166.9 1700.8,168.2 1703.0,166.2 1705.2,165.1 1707.4,165.0 1709.5,165.1 1711.7,166.4 1713.9,166.2 1716.1,167.6 1718.2,167.6 1720.4,167.6 1722.6,167.8 1724.8,167.2 1726.9,167.0 1729.1,169.0 1731.3,170.2 1733.4,170.8 1735.6,168.7 1737.8,167.2 1740.0,166.9 1742.1,166.4 1744.3,167.8 1746.5,166.8 1748.7,165.0 1750.8,163.6 1753.0,165.0 1755.2,169.3 1757.4,170.8 1759.5,169.3 1761.7,166.8 1763.9,165.0 1766.1,165.7 1768.2,165.1 1770.4,164.4 1772.6,165.0 1774.8,166.0 1776.9,167.5 1779.1,167.4 1781.3,169.2 1783.4,169.6 1785.6,168.8 1787.8,167.6 1790.0,165.8 1792.1,167.0 1794.3,165.2 1796.5,166.1 1798.7,165.4 1800.8,168.1 1803.0,168.2 1805.2,169.1 1807.4,167.7 1809.5,166.9 1811.7,166.9 1813.9,165.5 1816.1,165.4 1818.2,163.4 1820.4,163.4 1822.6,165.9 1824.8,166.0 1826.9,168.6 1829.1,168.2 1831.3,168.2 1833.4,165.3 1835.6,165.3 1837.8,163.7 1840.0,161.9 1842.1,160.5 1844.3,163.8 1846.5,166.9 1848.7,168.1 1850.8,167.0 1851.3,163.9"/>
<path stroke="#0000ff" d="M300.0,650.0 300.5,647.6 301.0,645.1 301.5,642.7 302.1,640.3 302.6,637.9 303.1,635.4 303.7,633.0 304.2,630.6 304.8,628.2 305.4,625.8 306.0,623.4 306.6,621.0 307.2,618.6 307.9,616.2 308.5,613.8 309.2,611.4 309.8,609.0 310.4,606.6 310.9,604.2 311.4,601.8 311.8,599.3 312.3,596.9 312.7,594.4 313.1,592.0 313.5,589.5 313.9,587.1 314.3,584.6 314.7,582.2 315.0,579.7 315.4,577.2 315.7,574.8 316.1,572.3 316.4,569.8 316.8,567.3 317.1,564.9 317.4,562.4 317.8,559.9 318.1,557.4 318.4,555.0 318.8,552.5 319.1,550.0 319.4,547.5 319.8,545.1 320.1,542.6 320.5,540.1 320.8,537.7 321.2,535.2 321.5,532.7 321.9,530.3 322.2,527.8 322.6,525.3 322.9,522.9 323.2,520.4 323.6,517.9 323.9,515.4 324.2,513.0 324.5,510.5 324.8,508.0 325.1,505.5 325.4,503.1 325.6,500.6 325.9,498.1 326.1,495.6 326.4,493.1 326.6,490.6 326.8,488.1 327.0,485.7 327.3,483.2 327.5,480.7 327.7,478.2 328.0,475.7 328.2,473.2 328.5,470.7 328.8,468.3 329.1,465.8 329.4,463.3 329.7,460.9 330.0,458.4 330.4,455.9 330.8,453.5 331.2,451.0 331.6,448.5 332.1,446.1 332.5,443.6 333.0,441.2 333.4,438.8 333.9,436.3 334.4,433.9 334.9,431.4 335.4,429.0 335.9,426.6 336.4,424.1 336.9,421.7 337.5,419.3 338.0,416.8 338.6,414.4 339.2,412.0 339.8,409.6 340.5,407.2 341.1,404.8 341.8,402.5 342.6,400.2 343.3,397.9 344.2,395.6 345.1,393.3 346.1,391.1 347.1,388.8 348.1,386.6 349.1,384.4 350.2,382.2 351.2,380.0 352.2,377.8 353.2,375.5 354.1,373.2 355.1,370.9 356.1,368.7 357.1,366.5 358.2,364.4 359.4,362.3 360.8,360.4 362.2,358.7 363.8,356.9 365.5,355.2 367.1,353.7 368.7,352.1 370.2,349.9 371.8,347.4 373.4,345.4 375.1,344.4 377.0,344.3 379.2,344.4 381.4,343.5 383.6,343.1 385.8,342.5 387.8,343.4 389.9,344.5 391.8,345.6 393.7,347.0 395.4,348.4 397.1,350.2 398.9,351.8 400.9,353.3 402.9,353.8 405.0,354.0 407.1,354.1 409.2,354.6 411.4,355.6 413.6,356.0 415.7,356.7 417.8,356.7 420.0,357.5 422.1,358.2 424.2,359.5 426.3,359.9 428.5,360.3 430.6,359.6 432.8,359.5 435.0,359.2 437.1,359.6 439.3,360.0 441.5,360.4 443.7,360.1 445.9,360.1 448.0,359.7 450.2,360.4 452.4,360.0 454.6,359.9 456.7,358.8 458.8,358.1 460.8,357.3 462.7,356.3 464.6,355.2 466.4,353.9 468.2,352.7 470.0,350.9 471.7,349.5 473.4,347.5 475.1,346.9 476.7,344.8 478.3,343.2 479.9,340.9 481.5,339.6 483.1,337.8 484.6,335.4 486.3,333.1 487.9,330.6 489.6,329.3 491.2,328.2 492.8,327.4 494.5,326.5 496.1,324.6 497.8,322.8 499.6,321.2 501.3,320.7 503.1,319.1 505.0,317.3 506.9,315.9 508.9,315.5 510.9,314.6 513.0,314.2 515.1,313.4 517.2,312.8 519.2,310.6 521.3,309.1 523.5,308.7 525.6,309.2 527.8,308.4 529.9,309.3 532.1,309.8 534.3,309.9 536.4,307.7 538.6,306.2 540.7,306.3 542.9,307.4 545.0,307.4 547.2,306.8 549.3,304.9 551.5,304.4 553.6,304.4 555.7,304.5 557.9,303.7 560.0,302.8 562.1,302.2 564.3,301.2 566.4,301.0 568.6,300.4 570.8,301.6 573.1,301.2 575.3,302.3 577.6,301.5 579.8,302.2 581.8,302.0 583.7,302.6 585.4,301.3 587.0,299.0 588.5,296.4 590.1,294.5 591.8,292.8 593.6,291.3 595.5,289.5 597.4,289.0 599.3,287.8 601.0,287.1 602.6,286.5 604.2,285.1 605.8,283.5 607.4,280.8 609.0,279.0 610.6,276.9 612.2,275.3 613.8,274.1 615.4,271.4 617.0,269.3 618.6,267.0 620.2,266.3 621.8,265.3 623.5,263.6 625.1,262.6 626.8,260.2 628.4,258.6 630.1,256.9 631.8,255.2 633.4,253.7 635.1,251.3 636.9,249.8 638.6,248.7 640.4,248.0 642.2,246.6 644.0,244.4 645.9,244.1 647.8,243.1 649.8,242.1 651.7,240.0 653.6,238.8 655.6,237.9 657.5,236.9 659.4,236.5 661.3,235.3 663.2,234.3 665.1,232.5 667.0,231.2 668.8,229.3 670.7,227.9 672.6,227.0 674.5,225.9 676.4,224.5 678.3,223.1 680.2,221.7 682.2,220.7 684.1,219.6 686.1,219.3 688.2,218.7 690.2,218.5 692.2,217.8 694.3,216.8 696.3,215.1 698.4,213.2 700.4,212.4 702.4,212.1 704.4,212.2 706.4,210.5 708.4,209.5 710.3,208.1 712.3,208.7 714.2,207.2 716.2,205.6 718.1,202.8 720.1,201.2 722.0,199.7 724.0,198.8 726.0,197.8 728.0,196.7 730.0,196.1 732.0,195.8 734.1,195.9 736.1,195.0 738.2,194.3 740.2,193.6 742.3,192.1 744.4,190.8 746.5,189.0 748.6,188.6 750.7,188.3 752.8,188.4 754.9,189.1 757.0,189.6 759.2,189.5 761.3,188.5 763.5,187.2 765.6,186.8 767.8,186.9 770.0,186.4 772.2,186.5 774.3,185.9 776.5,186.5 778.7,186.6 780.9,187.3 783.0,186.6 785.2,185.2 787.4,183.4 789.5,183.2 791.7,182.9 793.9,182.8 796.0,182.5 798.2,182.5 800.4,183.4 802.6,184.2 804.7,184.4 806.9,184.0 809.1,182.3 811.2,182.3 813.4,181.7 815.6,181.7 817.7,180.6 819.9,181.4 822.1,181.0 824.2,181.1 826.4,180.2 828.6,180.9 830.7,181.3 832.9,181.2 835.1,180.5 837.2,180.5 839.4,180.4 841.6,180.0 843.7,180.2 845.9,179.8 848.1,180.7 850.3,179.2 852.4,178.6 854.6,177.8 856.8,178.0 858.9,178.8 861.1,178.2 863.3,178.5 865.4,177.5 867.6,178.3 869.8,178.2 872.0,178.3 874.1,178.9 876.3,178.7 878.5,179.3 880.6,177.6 882.8,177.5 885.0,177.0 887.2,177.5 889.3,177.3 891.5,176.8 893.7,175.3 895.9,175.2 898.0,175.1 900.2,176.2 902.4,176.8 904.6,178.1 906.7,178.4 908.9,178.4 911.1,177.6 913.2,177.7 915.4,177.4 917.6,176.9 919.8,176.4 921.9,176.2 924.1,177.0 926.3,177.4 928.4,177.8 930.6,176.3 932.8,176.0 935.0,175.3 937.1,175.9 939.3,175.0 941.5,173.8 943.6,172.4 945.8,172.7 948.0,174.4 950.1,175.2 952.3,174.8 954.5,173.8 956.7,173.5 958.8,174.0 961.0,173.6 963.2,173.1 965.3,172.8 967.5,173.2 969.7,173.9 971.9,174.6 974.0,173.8 976.2,174.1 978.4,173.5 980.5,174.1 982.7,174.1 984.9,174.0 987.1,174.0 989.2,173.7 991.4,174.0 993.6,174.2 995.8,174.4 997.9,174.4 1000.1,173.8 1002.3,174.2 1004.5,174.0 1006.6,174.3 1008.8,172.9 1011.0,171.9 1013.1,171.3 1015.3,171.7 1017.5,172.8 1019.7,173.2 1021.8,173.5 1024.0,173.6 1026.2,174.0 1028.4,173.7 1030.5,173.2 1032.7,172.7 1034.9,172.3 1037.1,172.8 1039.2,172.3 1041.4,172.7 1043.6,172.1 1045.8,171.7 1047.9,172.0 1050.1,171.8 1052.3,172.8 1054.5,172.3 1056.6,171.8 1058.8,171.7 1061.0,171.9 1063.2,173.0 1065.3,173.1 1067.5,172.3 1069.7,172.3 1071.9,172.5 1074.0,173.5 1076.2,173.2 1078.4,172.6 1080.6,172.4 1082.7,172.0 1084.9,173.6 1087.1,173.3 1089.2,172.9 1091.4,171.5 1093.6,172.2 1095.8,172.4 1097.9,171.5 1100.1,171.5 1102.3,171.9 1104.5,172.7 1106.6,172.4 1108.8,171.8 1111.0,171.5 1113.2,171.6 1115.3,171.8 1117.5,172.5 1119.7,172.1 1121.9,172.7 1124.0,172.5 1126.2,171.6 1128.4,171.5 1130.6,171.2 1132.7,172.5 1134.9,172.3 1137.1,173.1 1139.3,172.6 1141.4,171.6 1143.6,170.8 1145.8,171.2 1148.0,171.9 1150.1,171.9 1152.3,172.3 1154.5,172.4 1156.6,173.0 1158.8,172.4 1161.0,171.8 1163.2,171.0 1165.3,170.7 1167.5,171.5 1169.7,171.6 1171.9,171.1 1174.0,170.5 1176.2,170.6 1178.4,170.8 1180.6,171.0 1182.7,172.1 1184.9,172.6 1187.1,172.5 1189.3,171.6 1191.4,172.2 1193.6,172.8 1195.8,172.8 1198.0,171.5 1200.1,170.4 1202.3,170.3 1204.5,170.9 1206.6,170.9 1208.8,170.4 1211.0,170.5 1213.2,170.2 1215.3,170.0 1217.5,170.0 1219.7,171.2 1221.9,172.1 1224.0,172.6 1226.2,173.0 1228.4,173.3 1230.6,172.7 1232.7,173.0 1234.9,173.3 1237.1,173.8 1239.3,172.5 1241.4,172.0 1243.6,170.6 1245.8,170.8 1248.0,169.5 1250.1,170.3 1252.3,170.9 1254.5,172.0 1256.6,172.9 1258.8,172.4 1261.0,172.5 1263.2,171.6 1265.3,171.8 1267.5,171.8 1269.7,172.4 1271.9,172.9 1274.0,173.1 1276.2,172.1 1278.4,171.6 1280.6,172.0 1282.7,172.8 1284.9,172.7 1287.1,172.5 1289.3,172.8 1291.4,171.5 1293.6,171.8 1295.8,171.5 1298.0,172.9 1300.1,172.0 1302.3,171.7 1304.5,171.8 1306.6,171.3 1308.8,171.6 1311.0,171.3 1313.2,172.6 1315.3,172.6 1317.5,172.5 1319.7,171.9 1321.9,171.9 1324.0,172.0 1326.2,172.2 1328.4,171.6 1330.6,171.0 1332.7,170.5 1334.9,170.2 1337.1,170.4 1339.3,170.8 1341.4,170.7 1343.6,170.5 1345.8,170.7 1348.0,171.1 1350.1,171.7 1352.3,170.8 1354.5,170.6 1356.6,170.4 1358.8,171.7 1361.0,172.4 1363.2,171.8 1365.3,171.2 1367.5,171.4 1369.7,172.5 1371.9,171.8 1374.0,171.3 1376.2,172.0 1378.4,172.1 1380.6,172.3 1382.7,171.0 1384.9,170.8 1387.1,170.5 1389.3,171.3 1391.4,172.4 1393.6,172.2 1395.8,171.5 1398.0,170.6 1400.1,170.1 1402.3,170.5 1404.5,171.6 1406.6,173.2 1408.8,172.7 1411.0,172.6 1413.2,172.5 1415.3,172.5 1417.5,171.9 1419.7,171.3 1421.9,171.6 1424.0,172.4 1426.2,172.1 1428.4,171.5 1430.6,171.1 1432.7,171.5 1434.9,171.2 1437.1,170.4 1439.3,170.0 1441.4,170.6 1443.6,171.2 1445.8,172.0 1448.0,172.2 1450.1,172.2 1452.3,171.4 1454.5,171.9 1456.6,172.5 1458.8,172.7 1461.0,171.9 1463.2,172.3 1465.3,172.8 1467.5,172.7 1469.7,171.1 1471.9,170.5 1474.0,171.5 1476.2,172.0 1478.4,172.0 1480.6,171.3 1482.7,171.8 1484.9,172.6 1487.1,172.2 1489.3,171.8 1491.4,171.1 1493.6,171.4 1495.8,171.0 1498.0,171.5 1500.1,171.9 1502.3,172.7 1504.5,173.0 1506.6,172.8 1508.8,172.7 1511.0,171.9 1513.2,172.0 1515.3,171.9 1517.5,172.1 1519.7,171.4 1521.9,172.0 1524.0,172.1 1526.2,172.3 1528.4,170.6 1530.6,170.6 1532.7,171.4 1534.9,172.8 1537.1,173.3 1539.3,172.9 1541.4,172.7 1543.6,171.5 1545.8,171.8 1548.0,171.9 1550.1,172.3 1552.3,172.2 1554.5,171.8 1556.6,172.2 1558.8,172.9 1561.0,172.4 1563.2,172.9 1565.3,171.7 1567.5,171.9 1569.7,170.9 1571.9,171.4 1574.0,171.5 1576.2,172.1 1578.4,172.1 1580.6,173.3 1582.7,173.3 1584.9,173.1 1587.1,172.3 1589.3,172.4 1591.4,172.4 1593.6,171.8 1595.8,171.2 1598.0,171.3 1600.1,172.2 1602.3,172.7 1604.5,172.6 1606.6,172.5 1608.8,172.1 1611.0,172.2 1613.2,172.6 1615.3,173.3 1617.5,173.8 1619.7,173.0 1621.9,172.6 1624.0,171.5 1626.2,172.1 1628.4,171.8 1630.6,171.6 1632.7,171.0 1634.9,171.3 1637.1,170.9 1639.3,170.5 1641.4,170.8 1643.6,171.8 1645.8,172.4 1648.0,171.3 1650.1,171.9 1652.3,172.4 1654.5,173.4 1656.6,172.2 1658.8,172.0 1661.0,172.2 1663.2,172.6 1665.3,172.2 1667.5,171.4 1669.7,171.8 1671.9,171.8 1674.0,171.9 1676.2,170.8 1678.4,170.0 1680.6,170.6 1682.7,172.4 1684.9,173.8 1687.1,174.2 1689.3,172.9 1691.4,172.3 1693.6,171.7 1695.8,171.9 1698.0,173.0 1700.1,171.9 1702.3,171.6 1704.5,170.3 1706.6,170.7 1708.8,171.6 1711.0,170.5 1713.2,171.8 1715.3,171.8 1717.5,173.5 1719.7,173.7 1721.9,174.8 1724.0,174.7 1726.2,174.3 1728.4,172.8 1730.6,173.0 1732.7,172.1 1734.9,171.2 1737.1,171.2 1739.3,171.2 1741.4,172.6 1743.6,172.7 1745.8,172.8 1748.0,172.3 1750.1,171.7 1752.3,172.0 1754.5,172.7 1756.6,172.6 1758.8,173.0 1761.0,170.1 1763.2,170.6 1765.3,169.1 1767.5,170.5 1769.7,171.5 1771.9,174.6 1774.0,174.6 1776.2,171.8 1778.4,170.4 1780.6,170.4 1782.7,172.0 1784.9,170.2 1787.1,171.7 1789.3,173.0 1791.4,172.9 1793.6,170.9 1795.8,168.5 1797.9,170.8 1800.1,169.5 1802.3,170.4 1804.5,169.4 1806.6,170.7 1808.8,171.2 1811.0,169.2 1813.2,168.5 1815.3,166.8 1817.5,169.8 1819.7,171.0 1821.9,171.0 1824.0,170.7 1826.2,170.5 1828.4,170.7 1830.6,169.7 1832.7,170.7 1834.9,174.9 1837.1,173.9 1839.3,173.9 1841.4,170.2 1843.6,171.3 1845.8,172.9 1847.9,174.1 1850.1,175.4 1851.3,172.8"/>
<path stroke="#ff00ff" d="M300.0,812.0 300.5,809.6 300.9,807.1 301.4,804.7 301.9,802.2 302.3,799.8 302.8,797.3 303.3,794.9 303.7,792.5 304.2,790.0 304.6,787.6 305.1,785.1 305.6,782.7 306.0,780.2 306.5,777.8 307.0,775.4 307.4,772.9 307.9,770.5 308.4,768.0 308.9,765.6 309.3,763.2 309.8,760.7 310.3,758.3 310.7,755.8 311.1,753.4 311.5,750.9 311.9,748.5 312.2,746.0 312.6,743.5 312.9,741.1 313.2,738.6 313.5,736.1 313.9,733.6 314.2,731.2 314.5,728.7 314.8,726.2 315.0,723.7 315.3,721.2 315.6,718.8 315.9,716.3 316.2,713.8 316.5,711.3 316.9,708.9 317.2,706.4 317.5,703.9 317.8,701.4 318.1,699.0 318.5,696.5 318.8,694.0 319.1,691.6 319.4,689.1 319.8,686.6 320.1,684.1 320.4,681.7 320.7,679.2 321.1,676.7 321.4,674.3 321.8,671.8 322.1,669.3 322.5,666.9 322.8,664.4 323.2,661.9 323.6,659.5 324.0,657.0 324.3,654.5 324.7,652.1 325.1,649.6 325.5,647.1 325.8,644.7 326.1,642.2 326.5,639.7 326.8,637.3 327.1,634.8 327.4,632.3 327.7,629.8 327.9,627.4 328.2,624.9 328.5,622.4 328.8,619.9 329.0,617.4 329.3,615.0 329.6,612.5 329.8,610.0 330.1,607.5 330.4,605.0 330.7,602.5 330.9,600.1 331.2,597.6 331.5,595.1 331.8,592.6 332.2,590.2 332.5,587.7 332.8,585.2 333.1,582.8 333.5,580.3 333.8,577.8 334.2,575.4 334.5,572.9 334.9,570.4 335.2,567.9 335.6,565.5 336.0,563.0 336.3,560.5 336.7,558.1 337.1,555.6 337.5,553.2 337.8,550.7 338.2,548.2 338.6,545.8 339.0,543.3 339.4,540.9 339.9,538.4 340.3,536.0 340.7,533.5 341.1,531.1 341.6,528.6 342.0,526.2 342.4,523.7 342.9,521.3 343.4,518.8 343.8,516.4 344.3,514.0 344.8,511.5 345.3,509.1 345.8,506.7 346.3,504.2 346.9,501.8 347.4,499.4 348.0,496.9 348.5,494.5 349.1,492.1 349.6,489.7 350.2,487.3 350.8,484.9 351.3,482.4 351.9,480.0 352.5,477.6 353.1,475.2 353.8,472.8 354.5,470.4 355.2,468.1 356.0,465.8 356.8,463.5 357.8,461.3 359.0,459.1 360.1,457.0 361.2,454.8 362.2,452.5 363.3,450.3 364.4,448.2 365.6,445.5 366.9,443.3 368.3,441.3 369.8,439.8 371.5,438.2 373.3,436.9 375.1,436.2 377.1,436.0 379.3,435.5 381.6,435.2 383.7,434.7 385.8,435.3 387.8,436.5 389.7,437.9 391.5,438.5 393.0,439.8 394.4,442.5 395.7,445.5 397.0,447.6 398.3,449.0 399.9,450.9 401.6,452.6 403.5,453.8 405.4,454.3 407.4,455.4 409.3,456.4 411.3,457.9 413.3,459.6 415.2,461.3 417.1,462.4 418.7,463.1 420.2,464.1 421.5,466.3 422.8,468.8 424.0,471.6 425.2,473.7 426.4,475.4 427.8,476.6 429.3,478.6 430.8,480.6 432.5,483.6 434.2,484.6 435.9,486.1 437.8,486.5 439.7,487.7 441.7,488.5 443.9,488.8 446.1,489.1 448.3,488.6 450.5,488.6 452.7,487.8 454.9,487.5 457.0,486.9 459.1,486.5 461.0,486.8 462.9,485.5 464.6,483.9 466.3,481.5 467.9,480.1 469.6,478.8 471.2,476.6 472.9,475.2 474.7,473.0 476.4,472.0 478.1,470.2 479.8,468.8 481.4,466.8 482.9,464.5 484.3,462.4 485.7,460.8 486.9,459.2 488.1,457.8 489.2,454.7 490.3,453.0 491.4,450.9 492.5,448.3 493.6,446.0 494.8,444.3 496.1,443.0 497.4,441.2 498.7,438.3 500.1,437.1 501.5,434.5 503.0,432.4 504.6,430.2 506.3,428.5 508.1,426.8 509.9,424.9 511.8,424.2 513.8,423.2 515.8,422.6 517.8,421.8 520.0,422.9 522.1,423.1 524.3,424.1 526.4,423.8 528.4,424.5 530.4,422.8 532.4,420.9 534.5,419.7 536.6,419.9 538.8,421.1 541.0,421.3 543.2,421.3 545.3,420.2 547.3,419.5 549.2,418.5 551.1,418.2 553.0,416.9 555.0,416.6 557.1,416.1 559.2,415.3 561.4,413.7 563.6,412.5 565.7,412.3 567.9,412.0 570.0,412.1 572.2,411.9 574.3,412.3 576.4,411.4 578.5,410.2 580.5,409.0 582.5,407.6 584.4,406.9 586.3,405.1 588.1,404.7 589.9,401.9 591.7,401.1 593.4,399.4 595.2,399.2 597.0,397.5 598.8,395.8 600.7,395.0 602.6,394.3 604.4,392.8 606.2,391.5 607.9,388.9 609.6,387.5 611.1,385.3 612.5,383.3 613.9,381.4 615.2,379.0 616.4,377.9 617.6,375.3 618.8,372.6 620.0,369.5 621.1,367.7 622.2,366.5 623.4,365.0 624.5,362.5 625.6,360.5 626.8,358.0 628.0,356.2 629.2,354.1 630.4,352.2 631.5,349.3 632.7,347.1 633.8,345.1 635.0,343.6 636.2,341.8 637.3,339.4 638.5,337.8 639.7,335.1 640.9,334.5 642.1,331.3 643.3,329.3 644.5,326.1 645.8,325.5 647.0,323.2 648.3,320.7 649.6,318.8 650.9,316.8 652.2,315.2 653.6,312.6 654.9,311.0 656.2,308.2 657.5,306.0 658.9,303.8 660.2,302.5 661.5,301.3 662.8,299.6 664.1,297.8 665.4,295.2 666.6,293.5 667.8,290.9 669.0,288.7 670.2,285.3 671.4,283.0 672.5,281.3 673.7,279.8 674.8,277.3 676.0,274.8 677.2,272.6 678.5,270.9 679.8,269.1 681.1,267.2 682.5,265.9 683.9,264.3 685.4,262.3 686.9,261.1 688.5,258.7 690.1,257.2 691.7,255.6 693.4,254.2 695.1,252.5 696.8,250.2 698.5,248.6 700.2,246.6 701.9,245.5 703.7,244.0 705.5,242.6 707.3,240.5 709.1,239.6 711.0,238.3 712.9,238.5 714.8,236.3 716.7,235.8 718.6,232.4 720.5,231.7 722.5,230.2 724.4,230.5 726.4,229.5 728.3,228.5 730.3,228.2 732.3,227.5 734.2,226.3 736.3,224.5 738.3,221.8 740.3,220.9 742.3,220.4 744.3,220.6 746.4,220.0 748.4,218.0 750.4,217.8 752.5,216.9 754.5,216.6 756.6,215.8 758.6,215.7 760.7,215.2 762.7,213.2 764.8,211.8 766.9,210.8 768.9,210.3 771.0,208.6 773.1,207.6 775.2,207.3 777.3,207.3 779.4,206.5 781.5,206.0 783.6,205.5 785.7,205.1 787.8,204.5 789.9,203.5 792.1,202.3 794.2,201.6 796.3,201.8 798.4,203.4 800.6,202.1 802.7,201.2 804.9,199.2 807.0,200.1 809.2,199.7 811.3,199.9 813.5,200.0 815.7,199.9 817.9,199.6 820.0,199.7 822.2,200.3 824.4,199.4 826.6,199.5 828.7,198.6 830.9,199.3 833.1,198.0 835.2,198.0 837.4,197.3 839.6,197.7 841.8,197.4 843.9,197.0 846.1,196.3 848.3,196.5 850.4,196.1 852.6,196.6 854.8,196.1 857.0,197.3 859.1,197.4 861.3,197.8 863.5,197.5 865.6,196.5 867.8,195.9 870.0,194.7 872.1,194.6 874.3,194.5 876.5,194.2 878.7,194.3 880.8,195.1 883.0,196.2 885.2,196.5 887.3,195.5 889.5,194.7 891.7,194.1 893.9,193.9 896.0,193.7 898.2,194.0 900.4,194.1 902.5,194.2 904.7,193.7 906.9,193.4 909.0,193.9 911.2,194.4 913.4,194.1 915.6,193.1 917.7,192.9 919.9,194.2 922.1,194.3 924.2,193.1 926.4,191.3 928.6,191.4 930.8,191.8 932.9,192.1 935.1,192.4 937.3,191.8 939.4,191.5 941.6,190.4 943.8,191.2 946.0,191.9 948.1,192.9 950.3,191.8 952.5,191.7 954.6,191.1 956.8,191.7 959.0,191.3 961.1,190.8 963.3,190.3 965.5,189.2 967.7,189.0 969.8,188.8 972.0,188.9 974.2,189.0 976.3,189.6 978.5,189.8 980.7,189.2 982.9,188.1 985.0,188.3 987.2,189.4 989.4,189.8 991.5,189.6 993.7,188.1 995.9,188.0 998.1,188.2 1000.2,188.5 1002.4,188.2 1004.6,187.5 1006.7,187.9 1008.9,188.4 1011.1,188.8 1013.3,188.6 1015.4,187.8 1017.6,187.2 1019.8,186.5 1021.9,186.2 1024.1,186.5 1026.3,186.7 1028.5,187.3 1030.6,187.4 1032.8,188.0 1035.0,187.8 1037.2,187.2 1039.3,186.5 1041.5,185.2 1043.7,186.0 1045.8,185.6 1048.0,186.1 1050.2,186.0 1052.4,185.7 1054.5,185.5 1056.7,184.5 1058.9,184.6 1061.0,184.9 1063.2,184.9 1065.4,185.4 1067.6,185.2 1069.7,185.3 1071.9,184.7 1074.1,185.0 1076.2,185.1 1078.4,184.4 1080.6,183.9 1082.8,183.3 1084.9,183.1 1087.1,181.7 1089.3,181.7 1091.5,182.2 1093.6,183.9 1095.8,183.6 1098.0,183.8 1100.1,183.2 1102.3,183.1 1104.5,182.6 1106.7,182.4 1108.8,182.7 1111.0,182.9 1113.2,183.3 1115.3,182.8 1117.5,182.6 1119.7,181.9 1121.9,182.2 1124.0,181.8 1126.2,182.4 1128.4,181.1 1130.6,181.6 1132.7,181.5 1134.9,181.8 1137.1,180.8 1139.2,180.4 1141.4,180.7 1143.6,181.1 1145.8,180.8 1147.9,181.0 1150.1,181.1 1152.3,181.1 1154.4,181.0 1156.6,180.9 1158.8,180.7 1161.0,180.6 1163.1,180.3 1165.3,181.0 1167.5,180.2 1169.7,180.4 1171.8,180.4 1174.0,180.8 1176.2,180.8 1178.3,180.4 1180.5,180.4 1182.7,180.1 1184.9,180.0 1187.0,179.4 1189.2,180.2 1191.4,179.5 1193.5,179.9 1195.7,178.4 1197.9,179.0 1200.1,179.1 1202.2,179.0 1204.4,179.4 1206.6,178.3 1208.7,178.3 1210.9,177.6 1213.1,177.4 1215.3,178.2 1217.4,178.2 1219.6,177.3 1221.8,176.1 1224.0,175.5 1226.1,176.8 1228.3,176.9 1230.5,176.8 1232.6,176.8 1234.8,176.8 1237.0,177.2 1239.2,176.2 1241.3,177.0 1243.5,177.5 1245.7,177.5 1247.9,175.9 1250.0,174.3 1252.2,175.2 1254.4,176.0 1256.5,177.2 1258.7,176.0 1260.9,175.8 1263.1,175.2 1265.2,176.2 1267.4,176.5 1269.6,176.0 1271.8,175.5 1273.9,175.6 1276.1,176.2 1278.3,175.9 1280.5,175.5 1282.6,175.3 1284.8,174.1 1287.0,174.5 1289.1,175.0 1291.3,176.3 1293.5,175.7 1295.7,174.3 1297.8,174.6 1300.0,174.7 1302.2,175.3 1304.4,174.7 1306.5,174.6 1308.7,174.7 1310.9,175.2 1313.0,175.2 1315.2,176.0 1317.4,175.4 1319.6,175.8 1321.7,175.2 1323.9,175.4 1326.1,175.7 1328.3,175.5 1330.4,174.7 1332.6,174.9 1334.8,174.6 1337.0,174.4 1339.1,174.0 1341.3,174.3 1343.5,174.6 1345.6,174.2 1347.8,174.1 1350.0,175.0 1352.2,174.8 1354.3,173.9 1356.5,172.7 1358.7,172.9 1360.9,173.4 1363.0,173.3 1365.2,173.3 1367.4,173.7 1369.6,173.9 1371.7,173.6 1373.9,172.9 1376.1,172.7 1378.3,172.3 1380.4,172.0 1382.6,172.3 1384.8,172.4 1386.9,172.8 1389.1,172.6 1391.3,172.6 1393.5,172.5 1395.6,172.1 1397.8,171.6 1400.0,172.5 1402.2,172.0 1404.3,172.3 1406.5,172.0 1408.7,172.2 1410.9,171.7 1413.0,170.9 1415.2,170.5 1417.4,171.4 1419.5,171.7 1421.7,172.0 1423.9,171.0 1426.1,171.2 1428.2,171.5 1430.4,171.3 1432.6,171.4 1434.8,171.1 1436.9,171.3 1439.1,171.1 1441.3,171.1 1443.5,171.3 1445.6,170.8 1447.8,172.4 1450.0,172.1 1452.2,172.7 1454.3,171.0 1456.5,170.6 1458.7,170.2 1460.8,170.4 1463.0,170.7 1465.2,170.7 1467.4,171.2 1469.5,172.2 1471.7,173.1 1473.9,172.7 1476.1,172.6 1478.2,172.4 1480.4,172.1 1482.6,170.9 1484.8,170.0 1486.9,171.2 1489.1,171.3 1491.3,171.2 1493.5,170.9 1495.6,170.8 1497.8,170.8 1500.0,170.4 1502.1,170.5 1504.3,169.4 1506.5,168.5 1508.7,168.7 1510.8,169.1 1513.0,170.2 1515.2,169.8 1517.4,170.5 1519.5,170.1 1521.7,169.2 1523.9,168.7 1526.1,168.1 1528.2,169.0 1530.4,169.9 1532.6,170.3 1534.7,170.2 1536.9,168.5 1539.1,168.4 1541.3,168.2 1543.4,169.0 1545.6,169.4 1547.8,170.1 1550.0,170.1 1552.1,170.0 1554.3,168.6 1556.5,168.8 1558.7,168.6 1560.8,168.5 1563.0,168.3 1565.2,168.0 1567.4,169.2 1569.5,169.2 1571.7,169.5 1573.9,169.8 1576.0,169.5 1578.2,169.3 1580.4,168.5 1582.6,168.6 1584.7,168.3 1586.9,168.5 1589.1,168.6 1591.3,168.7 1593.4,167.7 1595.6,168.0 1597.8,168.8 1600.0,170.0 1602.1,169.8 1604.3,170.0 1606.5,169.8 1608.7,170.0 1610.8,169.1 1613.0,168.5 1615.2,167.8 1617.3,167.7 1619.5,168.3 1621.7,169.1 1623.9,169.4 1626.0,169.7 1628.2,169.8 1630.4,170.4 1632.6,169.9 1634.7,168.6 1636.9,168.7 1639.1,168.2 1641.3,167.6 1643.4,165.7 1645.6,166.7 1647.8,166.9 1650.0,167.7 1652.1,167.0 1654.3,168.3 1656.5,167.8 1658.7,167.8 1660.8,167.3 1663.0,168.7 1665.2,168.6 1667.3,168.5 1669.5,167.6 1671.7,168.3 1673.9,168.7 1676.0,168.7 1678.2,168.3 1680.4,166.9 1682.6,167.1 1684.7,166.2 1686.9,166.8 1689.1,167.4 1691.3,169.4 1693.4,169.8 1695.6,169.1 1697.8,167.4 1700.0,167.7 1702.1,167.7 1704.3,168.6 1706.5,169.2 1708.6,169.8 1710.8,168.8 1713.0,168.2 1715.2,167.2 1717.3,166.1 1719.5,166.4 1721.7,168.4 1723.9,170.9 1726.0,169.7 1728.2,165.4 1730.4,163.6 1732.6,164.4 1734.7,166.9 1736.9,168.7 1739.1,167.4 1741.3,168.2 1743.4,167.1 1745.6,168.1 1747.8,166.3 1750.0,166.0 1752.1,166.0 1754.3,166.9 1756.5,165.7 1758.6,165.0 1760.8,164.4 1763.0,166.0 1765.2,167.4 1767.3,168.7 1769.5,168.7 1771.7,167.5 1773.9,167.4 1776.0,164.9 1778.2,165.2 1780.4,165.9 1782.6,167.4 1784.7,168.1 1786.9,165.4 1789.1,166.0 1791.3,165.0 1793.4,167.2 1795.6,167.3 1797.8,170.1 1800.0,165.9 1802.1,164.0 1804.3,160.5 1806.5,164.4 1808.6,165.3 1810.8,165.3 1813.0,163.2 1815.2,162.3 1817.3,162.0 1819.5,165.9 1821.7,166.5 1823.9,171.2 1826.0,170.6 1828.2,171.3 1830.4,168.8 1832.6,168.8 1834.7,167.6 1836.9,164.3 1839.1,164.9 1841.3,165.2 1843.4,168.6 1845.6,167.5 1847.8,166.5 1850.0,166.2 1851.3,166.0"/>
<path stroke="#008000" d="M300.0,650.0 300.2,647.5 300.3,645.0 300.5,642.5 300.7,640.0 300.9,637.5 301.2,635.0 301.4,632.5 301.7,630.0 301.9,627.6 302.2,625.1 302.5,622.6 302.8,620.1 303.1,617.7 303.5,615.2 303.8,612.7 304.1,610.3 304.5,607.8 304.8,605.3 305.2,602.9 305.5,600.4 306.0,598.0 306.4,595.5 306.9,593.1 307.3,590.6 307.8,588.2 308.3,585.8 308.9,583.3 309.4,580.9 309.9,578.5 310.5,576.1 311.0,573.6 311.5,571.2 312.0,568.8 312.5,566.3 313.1,563.9 313.6,561.5 314.2,559.1 314.7,556.6 315.2,554.2 315.7,551.8 316.2,549.4 316.7,546.9 317.1,544.5 317.5,542.0 317.8,539.6 318.2,537.1 318.5,534.6 318.9,532.2 319.2,529.7 319.5,527.2 319.9,524.7 320.2,522.3 320.5,519.8 320.8,517.3 321.1,514.8 321.4,512.3 321.7,509.9 322.1,507.4 322.4,504.9 322.7,502.5 323.1,500.0 323.4,497.5 323.7,495.0 324.1,492.6 324.4,490.1 324.7,487.6 325.0,485.2 325.4,482.7 325.7,480.2 326.0,477.7 326.4,475.3 326.7,472.8 327.0,470.3 327.4,467.9 327.7,465.4 328.0,462.9 328.4,460.5 328.7,458.0 329.0,455.5 329.3,453.0 329.6,450.5 329.9,448.0 330.3,445.6 330.6,443.1 331.0,440.6 331.4,438.2 331.8,435.7 332.2,433.3 332.6,430.9 333.1,428.5 333.7,426.0 334.3,423.6 334.9,421.3 335.6,418.9 336.2,416.5 337.0,414.1 337.7,411.7 338.4,409.4 339.2,407.0 339.9,404.7 340.7,402.3 341.4,400.0 342.2,397.6 343.0,395.3 343.8,393.0 344.5,390.6 345.1,388.2 345.7,385.8 346.3,383.4 346.9,380.9 347.5,378.5 348.1,376.0 348.7,373.6 349.3,371.3 350.0,368.9 350.7,366.6 351.5,364.3 352.4,362.1 353.4,359.9 354.6,357.7 355.7,355.6 357.0,353.5 358.3,351.5 359.5,349.5 360.9,347.5 362.3,345.6 363.8,343.8 365.3,342.7 366.8,340.4 368.4,338.7 369.9,336.1 371.4,334.1 373.1,332.0 374.8,330.9 376.7,330.5 378.8,330.6 381.0,330.7 383.3,330.4 385.4,330.3 387.6,330.1 389.8,330.8 391.9,331.5 394.0,332.7 395.8,333.5 397.5,334.8 399.1,336.4 400.7,338.3 402.3,340.2 404.0,341.5 405.9,343.1 407.8,344.2 409.8,345.8 411.8,346.2 413.8,347.0 415.7,347.9 417.6,349.5 419.5,351.1 421.3,352.9 423.2,354.1 425.0,354.8 426.7,355.7 428.5,357.1 430.3,359.1 432.1,360.4 433.8,362.0 435.6,363.6 437.3,365.4 439.2,366.5 441.1,367.8 443.2,368.6 445.4,369.7 447.6,369.6 449.8,369.8 451.9,369.5 454.1,369.3 456.3,369.3 458.5,368.2 460.7,367.9 462.8,367.3 464.8,367.6 466.8,366.6 468.8,365.6 470.7,363.7 472.6,362.3 474.4,360.8 476.1,359.3 477.7,358.3 479.2,356.6 480.7,355.1 482.1,353.1 483.5,351.2 485.0,349.2 486.5,347.2 488.0,346.1 489.7,344.5 491.4,343.0 493.2,341.2 495.0,339.3 496.9,337.5 498.7,335.8 500.5,334.8 502.4,334.1 504.2,332.6 505.9,330.5 507.6,327.6 509.4,326.1 511.1,325.1 512.9,324.0 514.8,323.3 516.7,321.6 518.7,322.3 520.8,323.4 522.9,325.0 525.0,324.6 527.1,323.9 529.1,323.0 531.2,323.3 533.2,321.8 535.3,321.3 537.3,320.6 539.4,321.9 541.5,322.3 543.5,324.0 545.5,324.6 547.5,324.6 549.5,322.6 551.5,321.1 553.5,320.1 555.5,319.3 557.6,319.0 559.7,319.3 561.9,319.8 564.1,320.2 566.2,320.2 568.4,320.3 570.6,319.8 572.8,319.5 575.0,319.7 577.2,320.4 579.3,320.6 581.4,318.6 583.4,316.9 585.5,316.1 587.5,317.3 589.4,317.3 591.3,315.7 593.1,313.5 594.8,311.2 596.5,310.5 598.2,309.1 599.8,307.2 601.4,305.1 602.9,303.6 604.5,301.4 606.0,298.9 607.5,297.2 609.0,296.7 610.5,294.6 612.0,292.4 613.5,290.5 615.0,289.4 616.5,287.1 618.0,284.8 619.4,283.1 620.9,282.0 622.4,279.8 623.9,278.8 625.4,276.8 627.0,274.8 628.5,271.9 630.0,268.8 631.6,267.4 633.1,265.7 634.6,266.3 636.2,264.9 637.8,263.3 639.3,260.9 640.9,259.1 642.4,257.0 644.0,255.5 645.6,254.0 647.2,253.2 648.8,251.4 650.4,249.0 652.0,246.4 653.6,244.1 655.2,242.6 656.8,241.3 658.3,239.7 659.9,237.7 661.4,236.4 662.9,235.3 664.4,233.8 665.9,230.9 667.5,228.3 669.0,226.2 670.6,224.6 672.3,222.8 673.9,221.7 675.6,220.7 677.4,219.8 679.2,217.8 681.0,216.4 682.8,215.7 684.6,214.8 686.4,213.1 688.2,212.1 690.0,210.7 691.8,209.2 693.6,207.0 695.5,205.2 697.3,203.9 699.1,202.7 701.0,201.4 702.9,199.7 704.8,198.4 706.7,197.8 708.6,196.8 710.6,195.2 712.6,194.3 714.6,193.9 716.5,193.5 718.6,192.0 720.6,190.6 722.6,189.1 724.6,188.1 726.6,187.6 728.7,185.7 730.7,184.2 732.8,183.3 734.9,184.1 737.0,184.0 739.1,183.4 741.2,182.0 743.3,181.1 745.4,180.6 747.6,180.5 749.7,180.4 751.8,179.4 754.0,179.1 756.1,179.0 758.3,179.2 760.5,178.8 762.6,178.4 764.8,178.5 767.0,178.5 769.1,179.2 771.3,179.4 773.5,179.0 775.6,177.5 777.8,177.0 780.0,176.5 782.1,177.5 784.3,176.4 786.4,176.2 788.6,175.8 790.8,176.1 792.9,176.3 795.1,175.5 797.2,175.0 799.4,174.7 801.5,173.7 803.7,173.5 805.8,173.8 808.0,173.8 810.2,173.9 812.3,172.2 814.5,172.6 816.7,171.8 818.8,171.7 821.0,170.6 823.2,170.4 825.3,169.9 827.5,169.8 829.7,169.8 831.8,170.2 834.0,169.7 836.2,169.4 838.3,169.1 840.5,169.4 842.7,169.3 844.8,169.2 847.0,169.0 849.2,169.7 851.4,169.9 853.5,170.1 855.7,169.9 857.9,169.3 860.0,169.5 862.2,169.0 864.4,169.0 866.6,168.5 868.7,167.8 870.9,168.7 873.1,168.5 875.2,168.2 877.4,166.8 879.6,166.4 881.8,166.7 883.9,167.3 886.1,167.8 888.3,168.4 890.4,168.3 892.6,167.5 894.8,167.4 897.0,167.6 899.1,167.1 901.3,166.3 903.5,165.5 905.7,165.9 907.8,166.5 910.0,166.8 912.2,167.1 914.3,166.0 916.5,164.8 918.7,164.3 920.9,164.4 923.0,164.8 925.2,164.2 927.4,163.8 929.6,164.0 931.7,165.0 933.9,165.3 936.1,165.3 938.3,165.1 940.4,165.2 942.6,165.7 944.8,165.4 946.9,165.4 949.1,164.3 951.3,165.1 953.5,165.3 955.6,166.3 957.8,165.8 960.0,165.4 962.2,164.4 964.3,164.5 966.5,165.1 968.7,164.5 970.9,165.1 973.0,164.1 975.2,165.5 977.4,164.4 979.5,164.7 981.7,164.8 983.9,165.1 986.1,166.0 988.2,165.6 990.4,166.0 992.6,164.9 994.8,164.7 996.9,164.2 999.1,164.7 1001.3,165.6 1003.5,165.8 1005.6,165.0 1007.8,164.0 1010.0,163.4 1012.2,164.2 1014.3,164.4 1016.5,164.6 1018.7,164.2 1020.8,164.6 1023.0,165.2 1025.2,165.1 1027.4,165.1 1029.5,165.0 1031.7,165.0 1033.9,164.8 1036.1,165.4 1038.2,165.2 1040.4,165.5 1042.6,164.6 1044.8,165.4 1046.9,165.1 1049.1,165.3 1051.3,165.0 1053.5,164.8 1055.6,164.9 1057.8,165.2 1060.0,164.6 1062.1,164.5 1064.3,164.8 1066.5,165.9 1068.7,165.8 1070.8,164.4 1073.0,164.2 1075.2,164.4 1077.4,165.9 1079.5,165.2 1081.7,164.8 1083.9,163.9 1086.1,164.2 1088.2,163.5 1090.4,163.6 1092.6,163.5 1094.8,164.1 1096.9,165.0 1099.1,164.9 1101.3,164.9 1103.5,164.6 1105.6,164.7 1107.8,165.4 1110.0,165.1 1112.1,165.1 1114.3,164.2 1116.5,164.1 1118.7,164.3 1120.8,164.6 1123.0,164.3 1125.2,164.6 1127.4,164.3 1129.5,164.3 1131.7,164.0 1133.9,163.7 1136.1,163.8 1138.2,163.8 1140.4,163.7 1142.6,163.0 1144.8,163.7 1146.9,164.2 1149.1,164.9 1151.3,164.1 1153.5,164.9 1155.6,164.9 1157.8,164.4 1160.0,163.9 1162.2,163.5 1164.3,164.5 1166.5,164.2 1168.7,165.2 1170.8,165.2 1173.0,165.1 1175.2,165.2 1177.4,166.2 1179.5,166.1 1181.7,166.0 1183.9,164.9 1186.1,165.4 1188.2,164.3 1190.4,163.7 1192.6,164.2 1194.8,164.8 1196.9,165.0 1199.1,165.2 1201.3,165.6 1203.5,166.2 1205.6,165.0 1207.8,164.4 1210.0,164.7 1212.2,164.3 1214.3,163.6 1216.5,162.6 1218.7,163.9 1220.9,164.7 1223.0,165.3 1225.2,164.9 1227.4,164.9 1229.5,165.2 1231.7,166.7 1233.9,166.9 1236.1,166.9 1238.2,165.1 1240.4,165.6 1242.6,165.1 1244.8,165.4 1246.9,164.4 1249.1,164.1 1251.3,163.7 1253.5,163.5 1255.6,163.3 1257.8,164.3 1260.0,165.0 1262.2,166.0 1264.3,165.4 1266.5,164.6 1268.7,164.1 1270.9,163.5 1273.0,163.8 1275.2,163.7 1277.4,164.2 1279.5,164.6 1281.7,164.7 1283.9,164.5 1286.1,164.5 1288.2,165.0 1290.4,166.1 1292.6,166.6 1294.8,165.9 1296.9,165.1 1299.1,165.0 1301.3,165.6 1303.5,165.9 1305.6,166.1 1307.8,165.8 1310.0,165.1 1312.2,163.9 1314.3,164.2 1316.5,164.6 1318.7,164.9 1320.9,164.4 1323.0,164.0 1325.2,164.1 1327.4,164.9 1329.5,164.9 1331.7,166.2 1333.9,165.4 1336.1,165.2 1338.2,164.2 1340.4,165.3 1342.6,165.6 1344.8,165.8 1346.9,163.6 1349.1,164.0 1351.3,163.1 1353.5,164.1 1355.6,164.4 1357.8,164.9 1360.0,165.3 1362.2,164.6 1364.3,164.6 1366.5,164.4 1368.7,165.0 1370.9,165.2 1373.0,165.0 1375.2,164.1 1377.4,163.3 1379.5,163.4 1381.7,163.7 1383.9,164.6 1386.1,165.0 1388.2,165.5 1390.4,164.9 1392.6,164.6 1394.8,164.3 1396.9,164.6 1399.1,163.5 1401.3,163.0 1403.5,163.1 1405.6,164.4 1407.8,164.6 1410.0,164.1 1412.2,164.3 1414.3,164.5 1416.5,164.9 1418.7,164.5 1420.9,164.8 1423.0,165.0 1425.2,164.5 1427.4,163.9 1429.5,164.3 1431.7,164.5 1433.9,165.0 1436.1,163.8 1438.2,163.6 1440.4,163.2 1442.6,163.9 1444.8,163.2 1446.9,163.2 1449.1,164.1 1451.3,165.1 1453.5,165.1 1455.6,164.0 1457.8,163.3 1460.0,163.6 1462.2,163.6 1464.3,164.0 1466.5,164.3 1468.7,165.1 1470.9,165.6 1473.0,164.4 1475.2,163.7 1477.4,164.0 1479.5,164.2 1481.7,165.0 1483.9,164.5 1486.1,165.4 1488.2,164.7 1490.4,164.2 1492.6,163.3 1494.8,164.1 1496.9,164.5 1499.1,164.4 1501.3,164.1 1503.5,163.6 1505.6,164.0 1507.8,163.8 1510.0,164.7 1512.2,164.9 1514.3,164.7 1516.5,163.5 1518.7,163.4 1520.9,163.4 1523.0,164.4 1525.2,164.6 1527.4,164.9 1529.5,165.1 1531.7,165.6 1533.9,166.2 1536.1,166.2 1538.2,165.4 1540.4,163.8 1542.6,164.0 1544.8,163.3 1546.9,164.7 1549.1,164.8 1551.3,165.4 1553.5,165.0 1555.6,164.1 1557.8,163.9 1560.0,163.9 1562.2,163.8 1564.3,164.4 1566.5,164.0 1568.7,165.2 1570.9,165.2 1573.0,166.0 1575.2,165.7 1577.4,165.2 1579.5,164.0 1581.7,162.6 1583.9,163.0 1586.1,162.2 1588.2,162.8 1590.4,161.7 1592.6,162.7 1594.8,163.4 1596.9,164.1 1599.1,164.1 1601.3,163.6 1603.5,164.1 1605.6,163.7 1607.8,163.9 1610.0,163.8 1612.2,164.0 1614.3,163.5 1616.5,164.1 1618.7,164.9 1620.9,165.5 1623.0,164.6 1625.2,164.1 1627.4,163.3 1629.5,162.9 1631.7,162.8 1633.9,163.1 1636.1,163.4 1638.2,163.0 1640.4,163.5 1642.6,163.8 1644.8,163.7 1646.9,164.4 1649.1,163.8 1651.3,164.6 1653.5,163.2 1655.6,164.3 1657.8,164.3 1660.0,165.3 1662.2,164.9 1664.3,164.5 1666.5,164.7 1668.7,164.7 1670.9,165.0 1673.0,164.2 1675.2,163.8 1677.4,164.1 1679.5,165.1 1681.7,166.4 1683.9,166.4 1686.1,165.8 1688.2,165.4 1690.4,164.8 1692.6,165.4 1694.8,165.1 1696.9,164.3 1699.1,163.7 1701.3,162.9 1703.5,164.4 1705.6,164.4 1707.8,164.8 1710.0,164.8 1712.2,165.3 1714.3,164.5 1716.5,162.9 1718.7,161.8 1720.9,162.6 1723.0,165.6 1725.2,166.5 1727.4,167.2 1729.5,165.4 1731.7,163.1 1733.9,161.5 1736.1,161.3 1738.2,163.1 1740.4,163.8 1742.6,164.2 1744.8,164.6 1746.9,164.4 1749.1,163.9 1751.3,162.4 1753.5,164.1 1755.6,162.6 1757.8,164.0 1760.0,163.6 1762.2,163.6 1764.3,162.6 1766.5,162.8 1768.7,163.9 1770.9,163.8 1773.0,162.7 1775.2,164.9 1777.4,166.1 1779.5,165.5 1781.7,162.7 1783.9,160.4 1786.1,161.5 1788.2,160.6 1790.4,161.6 1792.6,161.8 1794.8,162.8 1796.9,163.1 1799.1,162.3 1801.3,164.5 1803.5,163.3 1805.6,163.5 1807.8,162.6 1810.0,164.2 1812.2,162.3 1814.3,162.9 1816.5,161.8 1818.7,163.5 1820.9,161.9 1823.0,165.3 1825.2,165.5 1827.4,169.2 1829.5,166.0 1831.7,165.6 1833.9,164.8 1836.1,165.1 1838.2,166.1 1840.4,165.7 1842.6,165.7 1844.8,164.2 1846.9,162.3 1849.1,164.2 1851.3,165.7 1851.3,167.8"/>
<path stroke="#000080" d="M300.0,1015.0 300.3,1012.5 300.6,1010.0 300.9,1007.6 301.2,1005.1 301.5,1002.6 301.8,1000.1 302.1,997.7 302.4,995.2 302.7,992.7 303.0,990.2 303.3,987.8 303.6,985.3 303.9,982.8 304.2,980.3 304.5,977.9 304.8,975.4 305.2,972.9 305.5,970.4 305.8,968.0 306.1,965.5 306.4,963.0 306.7,960.5 307.0,958.1 307.3,955.6 307.6,953.1 307.9,950.6 308.2,948.2 308.5,945.7 308.9,943.2 309.2,940.7 309.5,938.3 309.8,935.8 310.1,933.3 310.4,930.8 310.7,928.4 311.0,925.9 311.3,923.4 311.6,920.9 311.9,918.5 312.2,916.0 312.5,913.5 312.8,911.0 313.1,908.6 313.3,906.1 313.6,903.6 313.9,901.1 314.1,898.6 314.4,896.2 314.7,893.7 314.9,891.2 315.2,888.7 315.4,886.2 315.7,883.7 315.9,881.3 316.1,878.8 316.4,876.3 316.6,873.8 316.9,871.3 317.1,868.8 317.3,866.3 317.6,863.9 317.8,861.4 318.0,858.9 318.3,856.4 318.5,853.9 318.7,851.4 319.0,848.9 319.2,846.5 319.5,844.0 319.7,841.5 320.0,839.0 320.2,836.5 320.5,834.0 320.7,831.6 321.0,829.1 321.2,826.6 321.5,824.1 321.7,821.6 322.0,819.1 322.2,816.7 322.5,814.2 322.7,811.7 323.0,809.2 323.2,806.7 323.5,804.2 323.8,801.8 324.0,799.3 324.3,796.8 324.5,794.3 324.8,791.8 325.1,789.4 325.3,786.9 325.6,784.4 325.9,781.9 326.2,779.4 326.4,777.0 326.7,774.5 327.0,772.0 327.3,769.5 327.6,767.0 327.9,764.6 328.2,762.1 328.5,759.6 328.8,757.1 329.1,754.7 329.4,752.2 329.7,749.7 330.0,747.2 330.3,744.7 330.5,742.3 330.8,739.8 331.0,737.3 331.3,734.8 331.5,732.3 331.7,729.8 332.0,727.4 332.2,724.9 332.4,722.4 332.6,719.9 332.8,717.4 333.0,714.9 333.2,712.4 333.4,709.9 333.6,707.4 333.8,705.0 334.0,702.5 334.2,700.0 334.4,697.5 334.6,695.0 334.9,692.5 335.1,690.0 335.3,687.5 335.5,685.1 335.8,682.6 336.0,680.1 336.3,677.6 336.6,675.1 336.8,672.6 337.1,670.2 337.4,667.7 337.6,665.2 337.9,662.7 338.2,660.2 338.5,657.8 338.8,655.3 339.0,652.8 339.3,650.3 339.6,647.9 339.9,645.4 340.2,642.9 340.5,640.4 340.8,637.9 341.1,635.5 341.5,633.0 341.8,630.5 342.1,628.1 342.4,625.6 342.7,623.1 343.0,620.6 343.3,618.2 343.7,615.7 344.0,613.2 344.3,610.7 344.6,608.3 345.0,605.8 345.3,603.3 345.6,600.8 346.0,598.4 346.3,595.9 346.7,593.4 347.1,591.0 347.5,588.5 347.9,586.1 348.3,583.6 348.7,581.2 349.2,578.7 349.6,576.3 350.1,573.8 350.5,571.4 351.0,568.9 351.5,566.5 352.0,564.0 352.6,561.6 353.1,559.2 353.7,556.8 354.2,554.4 354.8,552.0 355.5,549.6 356.1,547.2 356.8,544.8 357.5,542.5 358.2,540.1 358.9,537.7 359.7,535.4 360.6,533.0 361.5,530.7 362.4,528.5 363.3,526.3 364.3,524.1 365.4,520.4 366.6,518.5 367.8,517.3 369.1,515.1 370.5,513.6 372.0,511.7 373.7,511.0 375.5,509.7 377.5,508.6 379.6,506.9 381.6,506.1 383.7,505.2 385.9,504.4 388.0,503.5 390.1,502.4 391.9,502.2 393.4,503.5 394.8,506.1 396.1,508.6 397.2,511.2 398.2,513.5 399.5,514.5 401.2,515.0 403.4,515.5 405.7,516.0 408.0,516.2 410.1,517.1 412.1,518.0 414.0,519.5 415.8,520.9 417.5,521.8 419.2,523.4 421.0,524.7 422.7,527.1 424.5,528.7 426.3,530.5 428.1,532.5 429.9,533.6 431.7,534.5 433.6,535.3 435.6,536.3 437.7,536.4 440.0,536.4 442.2,536.2 444.4,536.1 446.5,535.4 448.6,534.6 450.7,534.0 452.7,533.5 454.7,532.4 456.5,531.5 458.3,529.5 460.0,527.5 461.6,525.4 463.2,524.1 464.8,523.2 466.4,521.4 467.9,519.2 469.5,516.3 471.0,515.0 472.5,512.9 473.9,511.9 475.3,509.9 476.6,507.9 477.9,505.5 479.0,503.3 480.0,501.8 481.0,499.7 481.9,496.9 482.8,494.3 483.7,492.5 484.6,490.2 485.6,487.6 486.6,485.4 487.7,483.7 488.8,481.5 490.0,478.9 491.2,476.9 492.4,475.6 493.7,473.7 495.0,471.4 496.3,468.1 497.7,466.3 499.1,464.6 500.6,463.6 502.1,461.6 503.6,459.8 505.2,458.6 506.9,456.9 508.6,454.7 510.5,453.3 512.3,451.9 514.2,451.0 516.2,449.5 518.1,448.5 520.0,447.5 522.0,445.8 524.0,445.7 526.1,444.2 528.1,444.6 530.2,442.6 532.3,442.2 534.4,440.6 536.5,440.8 538.6,440.5 540.6,439.8 542.7,438.1 544.8,437.7 546.9,437.3 549.0,437.3 551.1,436.0 553.1,435.0 555.2,434.3 557.2,433.7 559.3,433.6 561.3,432.6 563.4,430.9 565.4,429.9 567.5,429.0 569.5,428.8 571.6,426.2 573.7,425.0 575.8,424.5 577.9,424.8 579.9,424.5 581.9,423.8 583.9,423.1 585.8,421.4 587.7,420.1 589.6,419.0 591.4,417.9 593.3,415.3 595.0,413.0 596.7,411.9 598.3,411.0 599.8,409.0 601.2,406.7 602.5,404.8 603.7,403.8 604.9,402.0 606.1,400.1 607.2,397.3 608.3,394.2 609.4,391.5 610.4,390.3 611.5,388.2 612.5,386.7 613.6,383.2 614.6,381.1 615.7,378.5 616.8,376.7 617.9,375.0 619.0,372.3 620.2,370.6 621.4,369.1 622.6,366.8 623.8,365.0 625.1,362.7 626.3,361.7 627.6,358.3 628.8,356.5 630.1,353.6 631.4,352.5 632.6,349.8 633.9,347.9 635.1,345.5 636.4,343.3 637.6,341.8 638.8,340.4 639.9,338.5 641.1,336.7 642.2,334.3 643.4,332.8 644.5,329.7 645.6,327.6 646.8,324.9 648.0,323.5 649.2,321.5 650.4,319.8 651.6,317.8 652.9,315.8 654.1,313.3 655.4,311.1 656.7,308.6 658.0,307.2 659.3,305.6 660.6,304.5 661.9,301.7 663.2,299.3 664.5,297.8 665.7,296.5 667.0,293.9 668.3,291.1 669.6,288.7 670.8,287.2 672.1,284.6 673.3,282.0 674.6,279.9 675.8,277.6 677.1,275.4 678.4,273.5 679.7,271.5 681.1,270.4 682.4,269.1 683.9,267.6 685.3,265.2 686.8,263.2 688.3,261.4 689.8,260.7 691.3,257.4 692.9,254.6 694.5,251.5 696.2,251.2 697.8,251.0 699.5,249.7 701.2,248.0 702.9,246.1 704.7,245.1 706.4,244.6 708.3,242.4 710.1,241.8 712.0,240.1 713.9,239.7 715.8,237.7 717.7,236.0 719.7,235.2 721.6,234.0 723.6,233.3 725.5,231.5 727.5,230.5 729.4,228.8 731.4,228.0 733.4,227.1 735.4,226.2 737.4,225.6 739.4,224.4 741.4,223.7 743.5,222.1 745.5,221.3 747.5,220.4 749.6,221.1 751.6,219.5 753.6,219.0 755.7,216.9 757.7,216.4 759.7,215.9 761.8,215.1 763.9,214.8 765.9,213.3 768.0,212.2 770.0,210.9 772.1,209.9 774.2,209.6 776.3,209.9 778.4,209.6 780.5,208.3 782.6,207.7 784.7,207.1 786.8,207.7 789.0,207.0 791.1,205.9 793.2,205.1 795.3,203.8 797.5,203.6 799.6,202.8 801.8,202.5 803.9,202.8 806.0,202.9 808.2,202.6 810.3,202.3 812.5,200.5 814.6,200.0 816.8,199.3 819.0,200.1 821.1,200.4 823.2,199.9 825.4,200.0 827.5,198.8 829.7,198.6 831.8,197.6 834.0,197.2 836.1,196.6 838.3,196.4 840.4,195.7 842.5,195.4 844.7,194.6 846.8,194.6 849.0,192.5 851.1,192.2 853.3,190.9 855.4,192.1 857.5,191.4 859.7,191.7 861.8,190.8 864.0,190.2 866.1,190.1 868.3,189.3 870.5,189.5 872.6,189.7 874.8,190.5 876.9,191.1 879.1,190.3 881.3,189.0 883.4,188.4 885.6,189.0 887.8,188.8 889.9,189.0 892.1,188.0 894.3,187.0 896.4,186.2 898.6,187.0 900.8,188.3 902.9,188.6 905.1,187.7 907.3,186.4 909.4,184.7 911.6,183.8 913.8,184.2 915.9,184.6 918.1,184.5 920.3,184.8 922.4,185.7 924.6,185.0 926.8,183.9 928.9,182.9 931.1,183.3 933.2,182.4 935.4,183.4 937.5,183.5 939.7,184.3 941.8,181.7 944.0,181.1 946.2,180.0 948.3,180.8 950.5,180.5 952.6,180.8 954.8,180.5 956.9,179.9 959.1,179.9 961.3,178.4 963.4,178.9 965.6,178.6 967.8,180.8 969.9,180.4 972.1,179.3 974.3,178.7 976.4,178.2 978.6,178.7 980.8,177.9 983.0,178.7 985.1,180.0 987.3,179.8 989.5,179.2 991.6,178.4 993.8,178.2 996.0,177.8 998.2,177.5 1000.3,177.7 1002.5,178.4 1004.7,177.5 1006.9,177.7 1009.1,177.3 1011.2,178.8 1013.4,178.3 1015.6,177.9 1017.8,177.3 1019.9,177.1 1022.1,177.0 1024.3,176.5 1026.5,176.4 1028.6,176.2 1030.8,176.1 1033.0,176.0 1035.2,176.1 1037.3,175.6 1039.5,176.4 1041.7,176.8 1043.8,177.3 1046.0,176.3 1048.2,176.4 1050.4,176.2 1052.5,176.6 1054.7,176.3 1056.9,176.3 1059.1,176.7 1061.2,176.2 1063.4,175.9 1065.6,175.4 1067.8,175.7 1069.9,176.1 1072.1,176.4 1074.3,177.1 1076.4,177.2 1078.6,176.6 1080.8,175.8 1083.0,175.2 1085.1,175.8 1087.3,175.7 1089.5,175.4 1091.7,174.3 1093.8,174.7 1096.0,174.6 1098.2,173.8 1100.4,173.7 1102.5,174.2 1104.7,175.7 1106.9,175.8 1109.0,175.8 1111.2,175.5 1113.4,175.0 1115.6,174.4 1117.7,173.1 1119.9,172.1 1122.1,172.6 1124.3,173.9 1126.4,174.7 1128.6,174.1 1130.8,174.0 1132.9,173.9 1135.1,174.2 1137.3,173.6 1139.5,173.0 1141.6,172.5 1143.8,172.7 1146.0,174.0 1148.2,175.2 1150.3,174.8 1152.5,174.2 1154.7,173.3 1156.8,173.4 1159.0,173.3 1161.2,173.6 1163.4,173.0 1165.5,173.5 1167.7,173.0 1169.9,173.0 1172.1,173.1 1174.2,172.7 1176.4,173.1 1178.6,171.6 1180.8,172.5 1182.9,171.2 1185.1,171.6 1187.3,170.2 1189.4,172.1 1191.6,172.8 1193.8,173.9 1196.0,172.7 1198.1,172.2 1200.3,172.8 1202.5,173.2 1204.7,172.4 1206.8,172.0 1209.0,171.2 1211.2,171.2 1213.3,170.4 1215.5,171.0 1217.7,171.5 1219.9,171.4 1222.0,170.8 1224.2,169.6 1226.4,169.5 1228.6,170.1 1230.7,171.2 1232.9,171.4 1235.1,170.5 1237.2,170.3 1239.4,169.6 1241.6,170.8 1243.8,170.3 1245.9,170.4 1248.1,169.5 1250.3,170.0 1252.5,170.0 1254.6,171.4 1256.8,171.5 1259.0,170.9 1261.2,169.5 1263.3,169.4 1265.5,170.2 1267.7,170.5 1269.8,170.0 1272.0,168.9 1274.2,167.8 1276.4,168.0 1278.5,168.3 1280.7,169.0 1282.9,168.8 1285.1,168.1 1287.2,167.1 1289.4,167.0 1291.6,167.5 1293.7,168.1 1295.9,168.3 1298.1,168.4 1300.3,168.5 1302.4,168.0 1304.6,167.3 1306.8,168.1 1309.0,168.2 1311.1,168.7 1313.3,168.4 1315.5,167.7 1317.6,167.6 1319.8,166.5 1322.0,166.8 1324.2,166.8 1326.3,167.4 1328.5,167.2 1330.7,167.7 1332.9,167.7 1335.0,168.2 1337.2,168.2 1339.4,168.0 1341.6,167.5 1343.7,166.4 1345.9,166.5 1348.1,166.2 1350.3,167.2 1352.4,167.0 1354.6,167.6 1356.8,167.5 1358.9,167.7 1361.1,167.3 1363.3,167.4 1365.5,167.7 1367.6,168.5 1369.8,168.8 1372.0,168.2 1374.2,167.8 1376.3,168.1 1378.5,168.4 1380.7,168.6 1382.9,168.2 1385.0,167.5 1387.2,167.3 1389.4,167.1 1391.6,167.4 1393.7,168.2 1395.9,168.2 1398.1,168.6 1400.3,167.5 1402.4,167.3 1404.6,166.9 1406.8,167.5 1408.9,167.7 1411.1,167.7 1413.3,167.7 1415.5,168.5 1417.6,168.5 1419.8,167.9 1422.0,167.5 1424.2,168.1 1426.3,168.5 1428.5,168.4 1430.7,166.8 1432.9,166.9 1435.0,166.4 1437.2,168.3 1439.4,168.2 1441.6,169.1 1443.7,168.0 1445.9,167.8 1448.1,166.7 1450.3,166.2 1452.4,166.1 1454.6,166.8 1456.8,166.6 1459.0,166.9 1461.1,166.9 1463.3,167.7 1465.5,167.9 1467.6,167.6 1469.8,167.7 1472.0,166.6 1474.2,167.1 1476.3,167.0 1478.5,167.6 1480.7,166.8 1482.9,166.6 1485.0,167.1 1487.2,166.7 1489.4,166.2 1491.6,165.3 1493.7,166.2 1495.9,166.4 1498.1,167.0 1500.3,166.1 1502.4,166.4 1504.6,166.2 1506.8,166.3 1509.0,166.9 1511.1,167.1 1513.3,167.0 1515.5,167.6 1517.6,167.1 1519.8,167.0 1522.0,165.1 1524.2,166.3 1526.3,166.9 1528.5,167.8 1530.7,167.6 1532.9,167.6 1535.0,167.7 1537.2,168.0 1539.4,168.0 1541.6,168.1 1543.7,167.4 1545.9,167.3 1548.1,167.6 1550.3,167.8 1552.4,167.8 1554.6,166.3 1556.8,165.6 1559.0,165.2 1561.1,166.0 1563.3,166.6 1565.5,167.0 1567.6,166.9 1569.8,166.9 1572.0,167.0 1574.2,167.4 1576.3,166.5 1578.5,166.8 1580.7,167.2 1582.9,168.6 1585.0,167.9 1587.2,166.6 1589.4,166.0 1591.6,166.8 1593.7,167.4 1595.9,166.5 1598.1,164.3 1600.3,164.3 1602.4,166.3 1604.6,167.1 1606.8,166.7 1609.0,165.6 1611.1,166.4 1613.3,167.1 1615.5,166.3 1617.6,166.2 1619.8,165.5 1622.0,166.6 1624.2,166.7 1626.3,167.6 1628.5,166.6 1630.7,165.9 1632.9,165.1 1635.0,165.4 1637.2,165.6 1639.4,165.3 1641.6,165.2 1643.7,164.8 1645.9,165.8 1648.1,165.9 1650.3,166.0 1652.4,165.6 1654.6,165.1 1656.8,165.8 1659.0,165.6 1661.1,167.2 1663.3,167.3 1665.5,167.1 1667.6,166.7 1669.8,166.4 1672.0,167.2 1674.2,165.0 1676.3,164.6 1678.5,164.0 1680.7,166.5 1682.9,166.1 1685.0,166.6 1687.2,165.7 1689.4,165.5 1691.6,164.9 1693.7,165.3 1695.9,166.1 1698.1,166.3 1700.3,165.9 1702.4,166.1 1704.6,166.4 1706.8,166.4 1709.0,165.3 1711.1,164.9 1713.3,165.0 1715.5,167.3 1717.6,166.7 1719.8,167.8 1722.0,166.1 1724.2,168.2 1726.3,165.3 1728.5,165.5 1730.7,162.2 1732.9,162.7 1735.0,162.5 1737.2,164.8 1739.4,165.4 1741.6,166.0 1743.7,164.8 1745.9,166.9 1748.1,166.2 1750.3,168.7 1752.4,168.9 1754.6,168.6 1756.8,167.3 1759.0,165.2 1761.1,167.4 1763.3,167.2 1765.5,169.5 1767.6,167.9 1769.8,167.3 1772.0,164.7 1774.2,165.0 1776.3,165.7 1778.5,166.6 1780.7,166.7 1782.9,167.1 1785.0,167.0 1787.2,165.9 1789.4,164.0 1791.6,163.5 1793.7,163.8 1795.9,166.0 1798.1,167.7 1800.3,167.3 1802.4,166.8 1804.6,164.7 1806.8,166.5 1809.0,163.9 1811.1,166.1 1813.3,164.9 1815.5,167.1 1817.6,165.8 1819.8,164.8 1822.0,164.6 1824.2,164.7 1826.3,167.0 1828.5,167.7 1830.7,169.2 1832.9,169.0 1835.0,166.7 1837.2,166.1 1839.4,163.8 1841.6,164.4 1843.7,163.4 1845.9,163.9 1848.1,164.3 1850.3,165.6 1851.3,165.9"/>
<path stroke="#8000ff" d="M300.0,1264.0 301.7,1262.4 303.3,1260.7 304.9,1259.0 306.5,1257.2 307.9,1255.4 309.4,1253.5 310.7,1251.6 312.1,1249.6 313.4,1247.6 314.5,1245.5 315.5,1243.3 316.4,1241.0 317.1,1238.6 317.8,1236.2 318.3,1233.8 318.8,1231.4 319.2,1228.9 319.6,1226.4 319.9,1224.0 320.3,1221.5 320.6,1219.0 320.8,1216.5 321.1,1214.0 321.4,1211.6 321.6,1209.1 321.8,1206.6 322.0,1204.1 322.1,1201.6 322.3,1199.1 322.4,1196.6 322.5,1194.1 322.6,1191.6 322.7,1189.1 322.8,1186.6 322.9,1184.1 323.0,1181.6 323.1,1179.1 323.2,1176.6 323.3,1174.1 323.4,1171.6 323.5,1169.1 323.6,1166.6 323.7,1164.1 323.8,1161.6 323.9,1159.1 323.9,1156.6 324.0,1154.2 324.1,1151.7 324.2,1149.2 324.3,1146.7 324.4,1144.2 324.5,1141.7 324.6,1139.2 324.7,1136.7 324.7,1134.2 324.8,1131.7 324.9,1129.2 325.0,1126.7 325.1,1124.2 325.1,1121.7 325.2,1119.2 325.3,1116.7 325.4,1114.2 325.5,1111.7 325.5,1109.2 325.6,1106.7 325.7,1104.2 325.8,1101.7 325.8,1099.2 325.9,1096.7 326.0,1094.2 326.0,1091.7 326.1,1089.2 326.2,1086.7 326.3,1084.2 326.3,1081.7 326.4,1079.2 326.5,1076.7 326.5,1074.2 326.6,1071.7 326.7,1069.2 326.8,1066.7 326.8,1064.2 326.9,1061.7 327.0,1059.2 327.1,1056.7 327.1,1054.2 327.2,1051.7 327.3,1049.2 327.3,1046.7 327.4,1044.2 327.5,1041.7 327.5,1039.2 327.6,1036.7 327.7,1034.2 327.8,1031.7 327.8,1029.2 327.9,1026.7 328.0,1024.2 328.0,1021.7 328.1,1019.2 328.2,1016.7 328.3,1014.2 328.3,1011.7 328.4,1009.2 328.5,1006.7 328.6,1004.2 328.6,1001.7 328.7,999.2 328.8,996.7 328.9,994.2 329.0,991.8 329.0,989.3 329.1,986.8 329.2,984.3 329.3,981.8 329.4,979.3 329.5,976.8 329.6,974.3 329.7,971.8 329.8,969.3 329.8,966.8 329.9,964.3 330.0,961.8 330.1,959.3 330.2,956.8 330.3,954.3 330.4,951.8 330.5,949.3 330.6,946.8 330.7,944.3 330.8,941.8 330.9,939.3 331.0,936.8 331.0,934.3 331.1,931.8 331.2,929.3 331.3,926.8 331.4,924.3 331.5,921.8 331.6,919.3 331.7,916.8 331.8,914.3 331.9,911.8 332.0,909.3 332.0,906.8 332.1,904.3 332.2,901.8 332.3,899.3 332.4,896.8 332.5,894.3 332.6,891.8 332.7,889.3 332.8,886.8 332.9,884.3 333.0,881.8 333.1,879.3 333.1,876.9 333.2,874.4 333.3,871.9 333.4,869.4 333.5,866.9 333.6,864.4 333.7,861.9 333.7,859.4 333.8,856.9 333.9,854.4 334.0,851.9 334.0,849.4 334.1,846.9 334.2,844.4 334.2,841.9 334.3,839.4 334.4,836.9 334.4,834.4 334.5,831.9 334.5,829.4 334.6,826.9 334.6,824.4 334.7,821.9 334.7,819.4 334.8,816.9 334.8,814.4 334.9,811.9 334.9,809.4 335.0,806.9 335.0,804.4 335.1,801.9 335.1,799.4 335.2,796.9 335.3,794.4 335.3,791.9 335.4,789.4 335.4,786.9 335.5,784.4 335.6,781.9 335.6,779.4 335.7,776.9 335.8,774.4 335.9,771.9 336.0,769.4 336.1,766.9 336.2,764.4 336.2,761.9 336.4,759.4 336.5,756.9 336.6,754.4 336.7,751.9 336.9,749.4 337.1,747.0 337.3,744.5 337.6,742.0 337.8,739.5 338.1,737.0 338.3,734.5 338.6,732.0 338.8,729.5 339.1,727.1 339.3,724.6 339.5,722.1 339.7,719.6 340.0,717.1 340.2,714.6 340.3,712.1 340.5,709.6 340.7,707.1 340.9,704.6 341.1,702.1 341.3,699.7 341.5,697.2 341.7,694.7 342.0,692.2 342.2,689.7 342.5,687.2 342.8,684.8 343.1,682.3 343.4,679.8 343.8,677.4 344.2,674.9 344.6,672.4 345.1,670.0 345.6,667.6 346.1,665.1 346.7,662.7 347.2,660.3 347.8,657.8 348.5,655.2 349.2,652.8 350.0,650.4 350.9,648.3 352.0,646.5 353.6,644.5 355.6,643.0 357.5,642.5 359.6,642.8 361.8,643.6 364.0,644.6 366.0,646.3 367.7,646.9 369.1,648.5 370.3,650.0 371.4,652.5 372.4,654.7 373.5,657.3 374.5,659.4 375.7,662.1 377.1,663.5 378.4,666.0 379.8,667.9 381.2,670.3 382.7,672.2 384.2,673.7 385.7,675.4 387.2,677.2 388.8,678.7 390.4,680.4 392.0,681.8 393.5,683.8 394.9,685.6 396.1,687.4 397.2,690.2 398.3,693.2 399.4,696.7 400.4,698.9 401.6,699.8 402.8,699.2 404.0,697.7 405.4,695.8 406.7,693.3 408.0,691.2 409.3,688.8 410.5,686.7 411.7,684.2 412.9,681.9 414.1,679.7 415.2,677.5 416.3,675.4 417.3,673.3 418.2,671.1 419.0,668.7 419.7,666.0 420.3,664.2 420.9,661.9 421.5,660.0 422.1,657.1 422.6,654.3 423.1,651.6 423.6,649.5 424.1,647.7 424.6,645.5 425.1,642.7 425.6,639.9 426.2,637.6 426.7,634.9 427.2,632.6 427.7,629.7 428.2,627.6 428.7,625.1 429.2,623.0 429.7,620.5 430.2,618.2 430.7,615.6 431.1,613.0 431.5,610.0 432.0,607.7 432.4,605.5 432.7,603.3 433.1,600.3 433.5,597.7 433.8,595.5 434.2,593.3 434.5,590.6 434.9,588.0 435.3,585.5 435.6,583.2 436.0,580.8 436.4,578.2 436.8,575.0 437.2,572.3 437.7,570.5 438.2,569.1 438.7,566.8 439.2,563.7 439.8,561.4 440.3,559.2 440.9,557.4 441.4,555.1 442.0,552.6 442.5,549.9 443.0,546.7 443.4,544.2 443.8,541.4 444.2,539.3 444.7,536.9 445.3,535.3 446.2,532.8 447.4,530.9 448.8,528.4 450.3,526.8 451.9,524.6 453.4,523.3 455.0,521.3 456.4,519.1 457.8,516.5 459.2,514.5 460.6,513.1 462.0,512.1 463.5,509.9 464.9,508.0 466.3,505.6 467.7,503.9 469.1,502.5 470.4,500.5 471.7,498.1 473.0,496.0 474.3,494.1 475.5,492.1 476.7,489.4 477.9,487.1 479.0,485.4 480.2,483.7 481.4,481.6 482.5,479.3 483.7,476.7 484.9,474.7 486.1,472.8 487.4,471.2 488.6,468.2 489.9,465.7 491.2,463.7 492.4,463.3 493.7,462.1 495.0,458.8 496.3,455.1 497.6,453.0 498.9,452.1 500.3,451.1 501.8,449.9 503.3,447.6 504.8,446.4 506.4,443.8 508.1,442.3 509.9,439.3 511.7,437.6 513.6,437.6 515.6,437.8 517.7,438.1 519.9,437.0 522.1,436.3 524.2,435.7 526.3,434.9 528.4,434.0 530.4,432.5 532.3,431.0 534.3,430.2 536.3,429.1 538.2,428.9 540.2,427.5 542.2,426.2 544.2,423.9 546.2,423.4 548.2,424.1 550.3,424.1 552.3,421.8 554.4,420.3 556.5,419.3 558.6,419.9 560.7,419.1 562.8,419.2 564.9,418.5 567.1,417.8 569.3,417.5 571.4,416.9 573.5,417.0 575.6,415.6 577.6,415.0 579.6,413.2 581.5,412.8 583.5,411.3 585.4,410.0 587.3,408.7 589.2,407.9 591.1,407.1 593.1,405.0 595.0,403.7 596.9,402.7 598.7,402.1 600.4,400.3 602.1,398.8 603.7,396.0 605.3,394.7 606.8,392.3 608.3,391.7 609.8,389.6 611.3,389.2 612.8,387.0 614.2,385.4 615.6,381.3 617.0,378.6 618.4,377.0 619.7,375.8 621.1,375.0 622.4,372.2 623.7,370.8 624.9,367.9 626.2,366.4 627.4,364.3 628.6,363.0 629.7,360.3 630.9,357.3 632.1,355.0 633.2,353.3 634.4,352.1 635.6,349.2 636.8,347.3 638.0,344.9 639.3,342.9 640.6,340.4 641.9,338.9 643.3,337.6 644.7,335.9 646.1,333.7 647.5,331.5 649.0,330.2 650.4,328.3 651.9,325.9 653.3,322.8 654.7,320.6 656.1,319.2 657.5,318.3 658.9,315.4 660.2,313.9 661.6,312.1 662.9,311.1 664.2,309.4 665.6,306.6 666.9,304.7 668.3,302.0 669.7,301.1 671.1,299.8 672.5,298.7 673.9,295.6 675.4,293.3 676.9,290.4 678.4,289.2 679.9,287.6 681.5,287.0 683.0,285.1 684.6,283.2 686.1,280.7 687.7,278.6 689.3,277.5 691.0,276.1 692.6,275.6 694.3,273.6 695.9,271.2 697.6,268.7 699.3,267.1 701.0,266.6 702.7,265.7 704.5,263.9 706.2,262.4 708.0,260.2 709.8,258.7 711.6,256.4 713.5,255.9 715.3,254.9 717.2,254.4 719.1,252.5 720.9,249.9 722.8,248.0 724.7,247.0 726.6,247.0 728.5,246.6 730.5,245.9 732.4,244.5 734.4,243.3 736.3,240.9 738.3,240.4 740.3,238.0 742.3,238.0 744.3,235.7 746.3,236.0 748.4,235.6 750.4,235.8 752.5,235.2 754.5,234.3 756.6,232.4 758.7,230.5 760.8,229.4 763.0,229.6 765.1,229.7 767.2,230.4 769.3,231.3 771.5,231.2 773.6,229.0 775.7,227.8 777.8,227.2 780.0,226.9 782.1,226.9 784.2,225.3 786.3,225.6 788.5,224.1 790.6,225.1 792.7,223.8 794.8,223.2 797.0,221.7 799.1,221.3 801.2,221.2 803.3,222.4 805.4,222.4 807.5,221.6 809.6,219.0 811.8,217.7 813.9,217.4 816.0,216.6 818.1,216.0 820.2,215.8 822.4,215.9 824.5,214.7 826.6,214.0 828.8,214.5 830.9,214.7 833.0,214.0 835.2,213.4 837.3,213.3 839.5,212.5 841.6,211.3 843.8,210.6 845.9,210.6 848.1,210.9 850.2,210.1 852.4,209.9 854.5,208.9 856.7,208.1 858.8,207.9 861.0,207.7 863.1,207.8 865.3,206.2 867.5,206.3 869.6,207.5 871.8,208.1 873.9,207.3 876.1,206.6 878.3,206.0 880.4,205.6 882.6,205.5 884.7,205.0 886.9,205.6 889.1,205.1 891.3,206.1 893.4,204.5 895.6,204.7 897.8,203.9 899.9,204.9 902.1,203.7 904.3,203.1 906.4,203.1 908.6,203.5 910.8,204.1 912.9,203.7 915.1,203.5 917.3,202.3 919.4,201.6 921.6,200.9 923.8,202.3 925.9,202.9 928.1,202.3 930.2,200.3 932.4,199.7 934.5,200.0 936.7,201.0 938.8,199.6 941.0,199.7 943.1,198.7 945.3,199.4 947.4,198.4 949.6,197.7 951.7,196.3 953.9,196.5 956.0,194.9 958.2,195.5 960.3,195.0 962.5,196.0 964.6,195.7 966.8,195.1 969.0,194.6 971.1,193.9 973.3,194.1 975.5,194.5 977.6,194.2 979.8,194.0 982.0,194.2 984.1,195.0 986.3,194.7 988.5,194.9 990.7,193.8 992.8,193.4 995.0,191.8 997.2,192.0 999.4,192.1 1001.5,192.7 1003.7,192.0 1005.9,192.3 1008.1,191.4 1010.2,191.4 1012.4,189.4 1014.6,190.6 1016.8,191.3 1018.9,192.5 1021.1,192.0 1023.3,190.9 1025.4,190.3 1027.6,189.5 1029.8,190.1 1032.0,190.3 1034.1,190.7 1036.3,189.9 1038.5,189.3 1040.6,189.2 1042.8,189.7 1045.0,190.4 1047.1,189.7 1049.3,189.5 1051.5,188.4 1053.6,187.9 1055.8,187.8 1058.0,187.9 1060.1,187.6 1062.3,186.8 1064.5,187.9 1066.6,188.1 1068.8,188.5 1071.0,187.4 1073.2,188.6 1075.3,188.2 1077.5,188.6 1079.7,187.7 1081.8,187.8 1084.0,187.1 1086.2,185.7 1088.3,185.6 1090.5,186.4 1092.7,187.2 1094.8,187.8 1097.0,186.9 1099.2,186.9 1101.3,185.5 1103.5,184.9 1105.7,184.5 1107.8,185.1 1110.0,184.5 1112.2,183.4 1114.3,182.7 1116.5,183.0 1118.7,183.7 1120.9,184.5 1123.0,184.1 1125.2,184.7 1127.4,184.0 1129.5,184.1 1131.7,182.2 1133.9,182.6 1136.0,183.3 1138.2,184.2 1140.4,183.6 1142.6,182.4 1144.7,181.1 1146.9,180.3 1149.1,179.7 1151.2,179.8 1153.4,179.7 1155.6,180.0 1157.8,180.8 1159.9,181.7 1162.1,181.7 1164.3,181.7 1166.4,180.8 1168.6,180.7 1170.8,180.3 1173.0,180.1 1175.1,180.2 1177.3,179.7 1179.5,179.4 1181.6,178.9 1183.8,179.7 1186.0,180.1 1188.2,180.1 1190.3,179.3 1192.5,178.7 1194.7,178.6 1196.8,178.2 1199.0,177.6 1201.2,177.7 1203.4,177.9 1205.5,178.7 1207.7,178.6 1209.9,178.8 1212.0,178.2 1214.2,178.6 1216.4,178.5 1218.6,178.9 1220.7,178.9 1222.9,178.0 1225.1,177.9 1227.2,177.0 1229.4,176.9 1231.6,176.5 1233.8,176.6 1235.9,177.1 1238.1,177.4 1240.3,176.8 1242.4,176.4 1244.6,175.9 1246.8,175.8 1249.0,175.7 1251.1,174.7 1253.3,174.3 1255.5,173.9 1257.6,174.6 1259.8,175.4 1262.0,175.2 1264.2,176.1 1266.3,174.9 1268.5,175.9 1270.7,174.6 1272.8,174.6 1275.0,173.2 1277.2,173.2 1279.4,173.5 1281.5,173.5 1283.7,173.8 1285.9,174.2 1288.0,173.7 1290.2,173.9 1292.4,173.5 1294.5,173.9 1296.7,173.5 1298.9,173.2 1301.1,173.8 1303.2,172.7 1305.4,173.2 1307.6,172.2 1309.7,173.0 1311.9,172.1 1314.1,173.1 1316.3,172.8 1318.4,173.3 1320.6,171.9 1322.8,171.0 1324.9,170.7 1327.1,171.8 1329.3,172.5 1331.5,171.6 1333.6,171.7 1335.8,171.3 1338.0,172.3 1340.2,171.0 1342.3,170.9 1344.5,170.6 1346.7,169.7 1348.8,169.5 1351.0,169.1 1353.2,170.0 1355.4,169.7 1357.5,170.3 1359.7,170.4 1361.9,171.0 1364.1,169.5 1366.2,169.5 1368.4,169.8 1370.6,171.0 1372.8,171.3 1374.9,170.9 1377.1,170.3 1379.3,170.0 1381.5,170.3 1383.6,170.2 1385.8,169.9 1388.0,169.7 1390.1,169.6 1392.3,169.8 1394.5,169.6 1396.7,169.2 1398.8,169.7 1401.0,169.9 1403.2,169.8 1405.4,168.5 1407.5,167.9 1409.7,168.0 1411.9,167.9 1414.0,168.1 1416.2,168.1 1418.4,168.1 1420.6,168.6 1422.7,168.5 1424.9,169.0 1427.1,167.6 1429.3,167.1 1431.4,166.4 1433.6,167.4 1435.8,168.1 1437.9,168.4 1440.1,167.8 1442.3,167.5 1444.5,167.1 1446.6,167.1 1448.8,167.3 1451.0,167.2 1453.2,167.5 1455.3,167.0 1457.5,167.4 1459.7,166.9 1461.8,167.3 1464.0,167.6 1466.2,167.8 1468.4,166.6 1470.5,166.2 1472.7,166.4 1474.9,166.6 1477.1,165.8 1479.2,165.1 1481.4,165.9 1483.6,165.9 1485.7,166.1 1487.9,165.6 1490.1,166.1 1492.3,166.0 1494.4,166.0 1496.6,165.7 1498.8,165.5 1501.0,166.3 1503.1,166.8 1505.3,167.0 1507.5,165.8 1509.7,165.2 1511.8,164.2 1514.0,165.0 1516.2,165.7 1518.3,166.4 1520.5,166.3 1522.7,165.6 1524.9,165.2 1527.0,165.3 1529.2,165.3 1531.4,165.9 1533.6,166.1 1535.7,165.7 1537.9,164.8 1540.1,164.8 1542.3,165.7 1544.4,166.8 1546.6,166.8 1548.8,166.2 1551.0,166.4 1553.1,166.2 1555.3,166.8 1557.5,166.0 1559.6,165.2 1561.8,164.3 1564.0,163.5 1566.2,163.2 1568.3,163.2 1570.5,163.9 1572.7,164.0 1574.9,163.5 1577.0,163.4 1579.2,162.8 1581.4,163.4 1583.6,163.6 1585.7,163.9 1587.9,163.4 1590.1,163.1 1592.3,164.4 1594.4,164.9 1596.6,164.7 1598.8,164.1 1600.9,163.4 1603.1,162.9 1605.3,163.0 1607.5,164.2 1609.6,165.2 1611.8,164.9 1614.0,164.7 1616.2,163.6 1618.3,163.0 1620.5,162.6 1622.7,163.9 1624.9,164.4 1627.0,164.6 1629.2,163.6 1631.4,163.6 1633.6,163.7 1635.7,164.5 1637.9,164.4 1640.1,165.1 1642.3,164.3 1644.4,164.8 1646.6,163.2 1648.8,163.2 1650.9,163.1 1653.1,163.5 1655.3,163.7 1657.5,163.3 1659.6,164.8 1661.8,164.9 1664.0,164.7 1666.2,164.0 1668.3,164.0 1670.5,165.5 1672.7,164.1 1674.9,164.3 1677.0,163.5 1679.2,164.1 1681.4,163.9 1683.6,162.4 1685.7,162.5 1687.9,163.3 1690.1,164.0 1692.3,163.4 1694.4,163.7 1696.6,164.5 1698.8,165.5 1700.9,164.5 1703.1,163.2 1705.3,163.6 1707.5,163.8 1709.6,164.2 1711.8,163.2 1714.0,163.4 1716.2,164.3 1718.3,164.4 1720.5,163.8 1722.7,162.2 1724.9,162.0 1727.0,162.1 1729.2,163.3 1731.4,163.5 1733.6,163.2 1735.7,162.8 1737.9,163.3 1740.1,163.7 1742.3,163.6 1744.4,162.8 1746.6,162.6 1748.8,163.1 1750.9,163.8 1753.1,163.9 1755.3,163.4 1757.5,163.1 1759.6,164.1 1761.8,165.7 1764.0,164.0 1766.2,164.1 1768.3,162.2 1770.5,164.2 1772.7,164.2 1774.9,166.6 1777.0,165.5 1779.2,165.6 1781.4,161.1 1783.6,161.7 1785.7,158.1 1787.9,160.0 1790.1,158.6 1792.3,159.4 1794.4,160.1 1796.6,160.1 1798.8,160.4 1800.9,159.5 1803.1,160.1 1805.3,162.0 1807.5,162.4 1809.6,161.9 1811.8,159.2 1814.0,160.4 1816.2,161.9 1818.3,164.7 1820.5,163.2 1822.7,164.3 1824.9,164.2 1827.0,168.0 1829.2,166.0 1831.4,166.4 1833.6,165.6 1835.7,165.8 1837.9,164.6 1840.1,161.8 1842.3,161.8 1844.4,162.9 1846.6,163.8 1848.8,162.8 1850.9,165.1 1851.3,163.8"/>
<path stroke="#800080" d="M300.0,1268.0 301.6,1266.3 303.2,1264.6 304.8,1262.9 306.3,1261.1 307.8,1259.3 309.3,1257.5 310.7,1255.6 312.2,1253.7 313.6,1251.8 315.0,1249.8 316.2,1247.7 317.1,1245.6 318.0,1243.3 318.8,1240.9 319.4,1238.5 320.0,1236.1 320.4,1233.7 320.8,1231.2 321.2,1228.7 321.5,1226.2 321.8,1223.8 322.1,1221.3 322.4,1218.8 322.7,1216.3 322.9,1213.8 323.2,1211.3 323.4,1208.9 323.6,1206.4 323.8,1203.9 323.9,1201.4 324.0,1198.9 324.1,1196.4 324.3,1193.9 324.3,1191.4 324.4,1188.9 324.5,1186.4 324.6,1183.9 324.7,1181.4 324.8,1178.9 324.9,1176.4 325.1,1173.9 325.2,1171.4 325.3,1168.9 325.4,1166.4 325.5,1163.9 325.6,1161.4 325.8,1158.9 325.9,1156.4 326.0,1153.9 326.1,1151.4 326.2,1149.0 326.3,1146.5 326.4,1144.0 326.6,1141.5 326.7,1139.0 326.8,1136.5 326.9,1134.0 326.9,1131.5 327.0,1129.0 327.1,1126.5 327.2,1124.0 327.3,1121.5 327.4,1119.0 327.5,1116.5 327.5,1114.0 327.6,1111.5 327.7,1109.0 327.8,1106.5 327.8,1104.0 327.9,1101.5 328.0,1099.0 328.1,1096.5 328.1,1094.0 328.2,1091.5 328.3,1089.0 328.4,1086.5 328.4,1084.0 328.5,1081.5 328.6,1079.0 328.7,1076.5 328.7,1074.0 328.8,1071.5 328.9,1069.0 329.0,1066.5 329.1,1064.0 329.2,1061.5 329.3,1059.0 329.3,1056.5 329.4,1054.0 329.5,1051.5 329.6,1049.0 329.7,1046.5 329.8,1044.0 330.0,1041.5 330.1,1039.0 330.2,1036.5 330.3,1034.0 330.4,1031.6 330.5,1029.1 330.6,1026.6 330.7,1024.1 330.8,1021.6 330.9,1019.1 331.0,1016.6 331.1,1014.1 331.2,1011.6 331.3,1009.1 331.4,1006.6 331.5,1004.1 331.6,1001.6 331.7,999.1 331.8,996.6 331.9,994.1 332.0,991.6 332.0,989.1 332.1,986.6 332.2,984.1 332.3,981.6 332.4,979.1 332.4,976.6 332.5,974.1 332.6,971.6 332.7,969.1 332.7,966.6 332.8,964.1 332.9,961.6 332.9,959.1 333.0,956.6 333.1,954.1 333.2,951.6 333.2,949.1 333.3,946.6 333.4,944.1 333.5,941.6 333.5,939.1 333.6,936.6 333.7,934.1 333.8,931.6 333.8,929.1 333.9,926.6 334.0,924.1 334.1,921.6 334.2,919.1 334.3,916.6 334.3,914.1 334.4,911.6 334.5,909.1 334.6,906.6 334.7,904.1 334.8,901.6 334.8,899.2 334.9,896.7 335.0,894.2 335.1,891.7 335.2,889.2 335.3,886.7 335.4,884.2 335.4,881.7 335.5,879.2 335.6,876.7 335.7,874.2 335.8,871.7 335.9,869.2 336.0,866.7 336.1,864.2 336.1,861.7 336.2,859.2 336.3,856.7 336.4,854.2 336.5,851.7 336.6,849.2 336.7,846.7 336.8,844.2 336.8,841.7 336.9,839.2 337.0,836.7 337.1,834.2 337.2,831.7 337.2,829.2 337.3,826.7 337.4,824.2 337.5,821.7 337.6,819.2 337.7,816.7 337.8,814.2 337.8,811.7 337.9,809.2 338.0,806.7 338.2,804.2 338.3,801.7 338.4,799.2 338.5,796.7 338.6,794.2 338.8,791.7 338.9,789.3 339.1,786.8 339.3,784.3 339.5,781.8 339.7,779.3 340.0,776.8 340.2,774.3 340.5,771.9 340.8,769.4 341.0,766.9 341.3,764.4 341.6,761.9 341.8,759.4 342.0,757.0 342.3,754.5 342.5,752.0 342.7,749.5 342.9,747.0 343.1,744.5 343.3,742.0 343.5,739.5 343.7,737.0 343.9,734.5 344.1,732.0 344.3,729.6 344.5,727.1 344.8,724.6 345.1,722.1 345.3,719.6 345.6,717.2 345.9,714.7 346.2,712.2 346.6,709.7 346.9,707.2 347.3,704.7 347.7,702.3 348.2,699.8 348.7,697.4 349.2,695.0 349.8,692.5 350.5,689.9 351.3,687.4 352.3,685.3 353.5,683.7 355.3,682.3 357.5,681.3 359.5,681.2 361.5,681.9 363.4,683.3 365.2,685.1 366.9,686.5 368.5,688.0 369.9,690.8 371.2,693.0 372.4,695.0 373.7,696.7 374.9,698.7 376.2,700.9 377.5,702.6 378.9,704.4 380.3,706.1 381.8,708.1 383.3,709.9 384.7,711.9 386.2,713.7 387.6,715.5 388.9,717.9 390.3,720.1 391.6,722.4 392.8,724.7 394.1,726.6 395.3,728.4 396.5,729.4 397.6,731.5 398.7,734.7 399.7,737.5 400.8,739.4 401.9,740.2 403.1,739.9 404.4,739.2 405.8,736.5 407.1,734.2 408.4,730.6 409.7,729.1 411.0,726.9 412.3,725.2 413.6,723.2 414.9,721.1 416.2,719.4 417.3,717.0 418.3,715.1 419.1,712.9 419.9,710.3 420.6,707.5 421.2,704.8 421.8,702.8 422.4,700.7 422.9,698.5 423.5,695.8 424.0,693.1 424.5,690.6 425.1,688.5 425.6,686.4 426.1,684.3 426.7,682.1 427.2,679.4 427.7,677.2 428.2,674.7 428.7,672.4 429.1,669.4 429.6,666.7 430.1,664.1 430.6,661.4 431.0,658.8 431.5,656.4 432.0,653.5 432.4,651.2 432.9,648.3 433.3,646.7 433.8,644.0 434.2,641.8 434.7,639.5 435.1,636.9 435.5,634.4 436.0,631.8 436.4,629.6 436.8,627.2 437.2,624.5 437.6,621.8 437.9,619.6 438.3,617.5 438.6,615.4 439.0,612.8 439.3,610.0 439.6,607.5 439.9,605.7 440.2,603.8 440.5,600.9 440.8,598.0 441.1,595.1 441.4,592.8 441.7,590.1 442.0,587.4 442.4,584.6 442.8,582.4 443.2,579.8 443.6,577.6 443.9,574.9 444.4,572.6 444.8,570.2 445.3,567.7 445.8,565.2 446.3,563.0 447.0,560.8 447.7,559.0 448.7,556.9 449.9,554.5 451.2,552.2 452.7,550.5 454.2,548.8 455.9,547.1 457.8,545.0 459.7,544.2 461.7,543.1 463.5,542.7 465.3,540.5 466.9,538.3 468.6,536.3 470.2,534.8 471.7,533.6 473.2,531.5 474.7,530.0 476.0,528.0 477.3,526.2 478.5,524.1 479.6,521.9 480.7,519.7 481.8,517.7 482.8,515.5 483.8,513.5 484.9,511.0 485.9,508.9 487.1,507.1 488.2,505.6 489.4,503.9 490.6,500.9 491.7,496.9 492.9,493.9 494.1,491.3 495.4,489.0 496.6,486.8 497.9,485.4 499.2,484.7 500.6,483.5 502.0,483.0 503.4,480.9 505.0,478.8 506.6,476.4 508.3,475.6 510.1,474.3 511.9,472.4 513.8,469.4 515.7,468.5 517.6,467.5 519.4,468.1 521.3,467.2 523.2,466.9 525.1,465.2 527.0,463.6 529.0,461.0 531.0,459.9 533.0,458.4 535.0,458.6 537.0,457.4 539.1,456.7 541.2,455.3 543.3,455.8 545.4,455.4 547.6,454.8 549.7,453.2 551.8,452.0 553.9,452.2 556.0,452.0 558.0,451.6 560.1,450.3 562.2,448.3 564.3,448.3 566.4,447.8 568.5,449.4 570.6,449.0 572.8,449.9 574.9,449.8 577.0,450.3 579.1,449.2 581.1,448.2 583.0,446.8 584.9,445.7 586.8,443.5 588.6,442.5 590.3,441.0 592.1,440.1 593.8,437.9 595.5,436.4 597.1,434.4 598.8,433.9 600.3,432.9 601.9,431.6 603.5,428.9 605.0,426.6 606.6,424.1 608.1,422.4 609.5,420.2 610.9,418.5 612.3,416.0 613.7,413.8 615.0,412.2 616.2,410.5 617.4,408.3 618.5,406.1 619.6,404.0 620.7,402.2 621.9,400.5 623.0,398.2 624.2,395.5 625.3,392.8 626.5,390.4 627.6,389.2 628.8,387.3 629.9,385.5 631.1,383.2 632.2,380.7 633.4,378.5 634.6,375.4 635.8,372.6 637.0,370.5 638.2,370.0 639.4,368.3 640.6,366.4 641.9,363.3 643.1,361.9 644.3,359.6 645.6,357.7 646.8,355.6 648.1,353.7 649.3,351.7 650.6,349.4 651.9,347.8 653.1,346.1 654.4,344.5 655.7,342.4 657.0,339.7 658.2,337.2 659.5,335.2 660.8,333.6 662.1,332.2 663.4,329.4 664.8,327.0 666.1,324.3 667.4,323.0 668.8,321.2 670.1,319.2 671.5,317.3 672.9,315.4 674.2,313.3 675.6,311.4 677.0,309.6 678.4,308.3 679.8,306.5 681.2,304.3 682.7,302.1 684.1,300.0 685.6,298.7 687.1,297.1 688.7,295.9 690.2,293.7 691.8,292.0 693.5,290.5 695.1,288.6 696.8,286.5 698.5,284.7 700.3,284.1 702.0,283.5 703.8,282.1 705.6,280.8 707.4,278.7 709.2,276.9 711.0,275.3 712.8,273.6 714.7,271.7 716.5,269.9 718.3,269.5 720.2,269.0 722.0,267.4 723.9,265.5 725.7,263.6 727.6,262.9 729.5,261.9 731.4,260.9 733.3,259.2 735.2,258.4 737.1,257.6 739.1,256.4 741.0,254.7 742.9,253.6 744.9,253.1 746.9,252.4 748.9,250.8 750.9,250.3 752.9,248.8 754.9,248.5 757.0,247.8 759.0,247.2 761.1,246.6 763.2,245.4 765.3,244.8 767.4,243.6 769.5,243.1 771.6,242.6 773.7,241.7 775.8,239.2 777.9,238.2 780.0,237.6 782.1,238.3 784.3,238.6 786.4,238.5 788.4,238.7 790.5,238.0 792.6,238.1 794.7,236.8 796.7,236.4 798.8,234.1 800.9,233.3 803.0,232.6 805.2,232.8 807.3,231.8 809.4,230.9 811.5,229.4 813.7,229.3 815.8,228.3 817.9,228.8 820.1,228.3 822.2,228.6 824.3,228.0 826.5,227.6 828.6,227.2 830.8,226.6 832.9,225.2 835.0,225.0 837.2,224.3 839.3,224.9 841.5,224.2 843.6,224.3 845.8,223.5 847.9,223.0 850.1,222.6 852.2,222.1 854.4,221.6 856.5,221.3 858.7,221.2 860.8,220.8 863.0,220.4 865.1,219.3 867.3,218.8 869.5,217.7 871.6,217.9 873.8,218.2 875.9,219.0 878.1,218.3 880.3,218.2 882.4,217.2 884.6,217.4 886.8,216.6 888.9,217.5 891.1,217.5 893.3,218.4 895.4,217.9 897.6,217.5 899.8,216.5 901.9,216.5 904.1,216.0 906.3,215.4 908.4,214.6 910.6,214.6 912.8,214.5 914.9,215.0 917.1,215.0 919.3,214.7 921.4,213.6 923.6,212.7 925.7,212.8 927.9,212.4 930.0,214.1 932.2,213.6 934.3,213.1 936.4,210.5 938.6,209.5 940.7,209.3 942.8,208.9 944.9,208.8 947.0,208.3 949.1,208.2 951.3,207.7 953.4,206.9 955.5,206.1 957.7,205.1 959.8,204.2 962.0,204.0 964.1,204.6 966.3,205.1 968.5,204.6 970.6,204.5 972.8,203.9 974.9,203.7 977.1,202.7 979.3,202.7 981.4,203.0 983.6,202.8 985.8,202.2 988.0,202.3 990.1,202.8 992.3,203.6 994.5,203.6 996.7,203.4 998.8,203.8 1001.0,203.3 1003.2,203.1 1005.4,202.8 1007.5,202.9 1009.7,202.8 1011.9,202.1 1014.1,201.3 1016.3,201.6 1018.4,201.3 1020.6,201.9 1022.8,202.1 1025.0,202.3 1027.1,202.1 1029.3,201.6 1031.5,201.2 1033.7,201.6 1035.8,200.5 1038.0,200.1 1040.2,198.9 1042.3,199.7 1044.5,199.6 1046.7,199.8 1048.8,200.3 1051.0,200.3 1053.2,200.5 1055.3,199.3 1057.5,198.7 1059.7,197.7 1061.8,198.3 1064.0,198.0 1066.2,198.0 1068.3,198.2 1070.5,198.6 1072.7,198.6 1074.9,197.4 1077.0,196.6 1079.2,196.5 1081.4,196.8 1083.5,196.8 1085.7,196.2 1087.9,196.3 1090.0,196.3 1092.2,196.6 1094.4,196.7 1096.5,196.3 1098.7,195.8 1100.9,194.3 1103.0,193.5 1105.2,193.9 1107.4,194.4 1109.5,195.0 1111.7,194.5 1113.9,193.8 1116.0,193.2 1118.2,192.6 1120.4,192.3 1122.6,192.4 1124.7,192.9 1126.9,192.7 1129.1,192.5 1131.2,192.0 1133.4,192.4 1135.6,193.4 1137.7,193.3 1139.9,192.3 1142.1,191.1 1144.3,191.3 1146.4,191.4 1148.6,191.8 1150.8,192.1 1152.9,191.6 1155.1,190.6 1157.3,189.6 1159.4,190.0 1161.6,190.9 1163.8,190.2 1166.0,190.3 1168.1,189.7 1170.3,189.5 1172.5,189.0 1174.6,189.1 1176.8,190.5 1179.0,190.2 1181.1,190.1 1183.3,188.7 1185.5,189.2 1187.7,188.8 1189.8,189.9 1192.0,188.7 1194.2,188.1 1196.3,186.5 1198.5,187.7 1200.7,187.8 1202.8,187.6 1205.0,186.4 1207.2,186.8 1209.4,187.7 1211.5,188.1 1213.7,187.0 1215.9,186.5 1218.0,185.3 1220.2,185.1 1222.4,185.3 1224.5,186.3 1226.7,186.7 1228.9,185.5 1231.1,184.6 1233.2,184.4 1235.4,185.7 1237.6,185.7 1239.7,185.1 1241.9,183.7 1244.1,183.5 1246.2,183.7 1248.4,184.0 1250.6,185.0 1252.8,184.9 1254.9,183.9 1257.1,183.4 1259.3,183.1 1261.4,183.6 1263.6,182.7 1265.8,183.1 1267.9,183.3 1270.1,183.6 1272.3,183.2 1274.5,183.0 1276.6,182.2 1278.8,181.7 1281.0,181.3 1283.1,181.4 1285.3,181.0 1287.5,180.6 1289.6,181.1 1291.8,182.2 1294.0,183.3 1296.2,183.1 1298.3,182.9 1300.5,182.8 1302.7,182.4 1304.8,181.8 1307.0,180.8 1309.2,180.6 1311.4,180.8 1313.5,180.8 1315.7,180.4 1317.9,180.1 1320.0,179.8 1322.2,180.8 1324.4,181.0 1326.6,180.4 1328.7,179.7 1330.9,179.1 1333.1,179.7 1335.3,179.3 1337.4,180.0 1339.6,180.0 1341.8,180.0 1344.0,179.5 1346.1,180.5 1348.3,180.2 1350.5,179.8 1352.6,178.2 1354.8,178.2 1357.0,178.3 1359.2,178.9 1361.3,179.0 1363.5,178.6 1365.7,178.5 1367.9,177.9 1370.0,178.0 1372.2,177.5 1374.4,177.6 1376.5,177.5 1378.7,177.5 1380.9,177.4 1383.1,177.0 1385.2,177.8 1387.4,178.1 1389.6,178.4 1391.8,177.9 1393.9,177.1 1396.1,177.2 1398.3,176.3 1400.4,176.6 1402.6,176.4 1404.8,176.8 1407.0,177.0 1409.1,176.5 1411.3,176.6 1413.5,176.4 1415.6,176.8 1417.8,176.6 1420.0,177.0 1422.2,177.0 1424.3,177.1 1426.5,176.0 1428.7,175.5 1430.8,174.9 1433.0,175.9 1435.2,175.9 1437.3,175.7 1439.5,175.1 1441.7,175.3 1443.9,175.2 1446.0,174.8 1448.2,175.3 1450.4,175.4 1452.5,175.4 1454.7,175.6 1456.9,175.4 1459.1,174.7 1461.2,172.8 1463.4,172.8 1465.6,173.5 1467.8,173.5 1469.9,172.4 1472.1,172.3 1474.3,172.5 1476.4,173.0 1478.6,172.3 1480.8,172.8 1483.0,172.9 1485.1,172.6 1487.3,171.6 1489.5,171.4 1491.7,171.3 1493.8,171.4 1496.0,172.0 1498.2,173.0 1500.3,173.5 1502.5,173.4 1504.7,173.0 1506.9,172.7 1509.0,171.4 1511.2,171.6 1513.4,171.7 1515.6,172.4 1517.7,172.1 1519.9,171.3 1522.1,171.0 1524.2,170.1 1526.4,170.3 1528.6,170.3 1530.8,170.7 1532.9,171.3 1535.1,171.0 1537.3,171.3 1539.5,170.8 1541.6,171.0 1543.8,171.1 1546.0,171.1 1548.2,170.9 1550.3,171.2 1552.5,170.9 1554.7,171.2 1556.8,170.1 1559.0,169.7 1561.2,169.4 1563.4,170.8 1565.5,170.6 1567.7,169.9 1569.9,168.5 1572.1,168.8 1574.2,169.3 1576.4,170.0 1578.6,170.0 1580.7,170.2 1582.9,169.6 1585.1,169.4 1587.3,168.9 1589.4,169.0 1591.6,169.2 1593.8,169.9 1596.0,169.7 1598.1,169.5 1600.3,168.4 1602.5,167.9 1604.6,168.1 1606.8,168.6 1609.0,169.6 1611.2,169.1 1613.3,169.1 1615.5,168.3 1617.7,167.6 1619.9,166.8 1622.0,166.8 1624.2,167.5 1626.4,167.6 1628.5,167.9 1630.7,167.9 1632.9,168.2 1635.1,168.0 1637.2,167.8 1639.4,167.8 1641.6,167.0 1643.8,166.6 1645.9,166.7 1648.1,167.6 1650.3,168.4 1652.4,167.6 1654.6,166.8 1656.8,166.0 1659.0,165.9 1661.1,166.1 1663.3,166.2 1665.5,167.2 1667.7,166.3 1669.8,166.3 1672.0,165.0 1674.2,165.1 1676.4,166.3 1678.5,167.8 1680.7,168.7 1682.9,168.0 1685.1,167.4 1687.2,167.2 1689.4,165.0 1691.6,163.2 1693.7,163.5 1695.9,163.8 1698.1,166.0 1700.3,166.1 1702.4,167.9 1704.6,167.3 1706.8,167.2 1709.0,166.6 1711.1,167.5 1713.3,166.9 1715.5,166.6 1717.7,166.6 1719.8,166.9 1722.0,167.8 1724.2,167.3 1726.4,168.9 1728.5,168.6 1730.7,167.8 1732.9,165.0 1735.1,165.0 1737.2,166.2 1739.4,166.7 1741.6,166.0 1743.7,163.1 1745.9,162.6 1748.1,162.2 1750.3,163.7 1752.4,165.0 1754.6,164.3 1756.8,164.7 1759.0,165.5 1761.1,168.1 1763.3,167.1 1765.5,166.6 1767.7,165.3 1769.8,165.0 1772.0,162.8 1774.2,161.8 1776.4,162.5 1778.5,164.5 1780.7,164.1 1782.9,162.4 1785.1,162.9 1787.2,163.8 1789.4,168.1 1791.6,167.3 1793.7,166.8 1795.9,165.4 1798.1,166.1 1800.3,165.8 1802.4,164.5 1804.6,164.8 1806.8,165.0 1809.0,165.8 1811.1,164.6 1813.3,168.5 1815.5,169.6 1817.7,168.7 1819.8,164.8 1822.0,162.8 1824.2,163.4 1826.4,165.0 1828.5,164.9 1830.7,163.6 1832.9,165.2 1835.1,165.2 1837.2,165.5 1839.4,164.1 1841.6,164.8 1843.7,165.7 1845.9,167.0 1848.1,165.5 1850.3,165.8 1851.3,165.6"/>
</g></g>
<rect x="1515" y="724.2" width="182" height="10" rx="2.5" fill="#000000"/>
<text class="leg" transform="translate(1709.5,754.5) scale(1.04,1)">PVA</text>
<rect x="1515" y="816.6" width="182" height="10" rx="2.5" fill="#f50000"/>
<text class="leg" transform="translate(1709.5,846.9) scale(1.04,1)">PVA-CNF</text>
<rect x="1515" y="908.9" width="182" height="10" rx="2.5" fill="#0000ff"/>
<text class="leg" transform="translate(1709.5,939.2) scale(1.04,1)">PVA-CNF-6-1</text>
<rect x="1515" y="1001.2" width="182" height="10" rx="2.5" fill="#ff00ff"/>
<text class="leg" transform="translate(1709.5,1031.5) scale(1.04,1)">PVA-CNF-6-1.5</text>
<rect x="1515" y="1093.6" width="182" height="10" rx="2.5" fill="#008000"/>
<text class="leg" transform="translate(1709.5,1123.9) scale(1.04,1)">PVA-CNF-9-1</text>
<rect x="1515" y="1186.0" width="182" height="10" rx="2.5" fill="#000080"/>
<text class="leg" transform="translate(1709.5,1216.2) scale(1.04,1)">PVA-CNF-9-1.5</text>
<rect x="1515" y="1278.3" width="182" height="10" rx="2.5" fill="#8000ff"/>
<text class="leg" transform="translate(1709.5,1308.6) scale(1.04,1)">PVA-CNF-12-1</text>
<rect x="1515" y="1370.7" width="182" height="10" rx="2.5" fill="#800080"/>
<text class="leg" transform="translate(1709.5,1401.0) scale(1.04,1)">PVA-CNF-12-1.5</text>
<text class="ttl" transform="translate(1320.3,1645.8) scale(1.043,1)" text-anchor="middle">Wavelength (nm)</text>
<text class="ttl" transform="translate(89.3,790.5) rotate(-90) scale(1.011,1.04)" text-anchor="middle">Transmittance (%)</text>
</svg></body></html>
